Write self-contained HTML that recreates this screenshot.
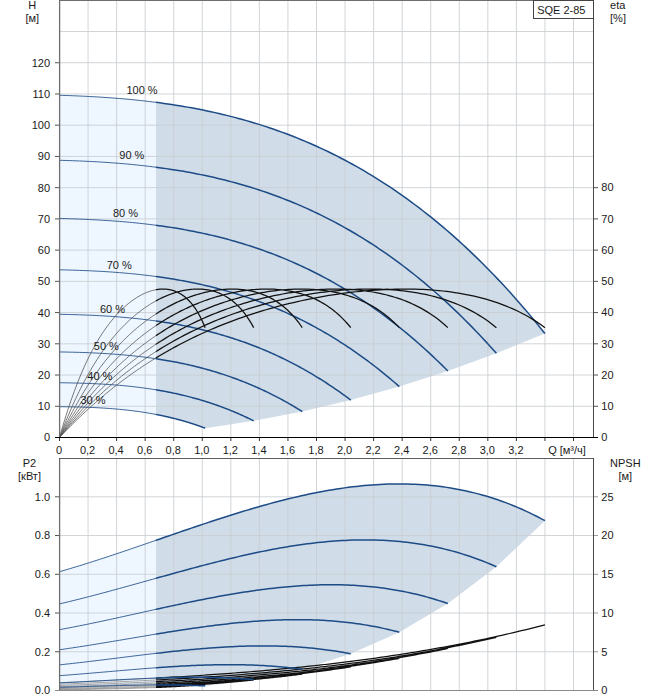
<!DOCTYPE html>
<html><head><meta charset="utf-8"><title>SQE 2-85</title>
<style>
html,body{margin:0;padding:0;background:#fff;}
body{width:658px;height:700px;position:relative;overflow:hidden;font-family:"Liberation Sans",sans-serif;}
</style></head><body>
<svg width="658" height="700" viewBox="0 0 658 700" style="position:absolute;left:0;top:0">
<rect width="658" height="700" fill="#fff"/>
<path d="M59.50,95.26 L62.83,95.36 L66.16,95.47 L69.48,95.59 L72.81,95.72 L76.14,95.86 L79.47,96.00 L82.80,96.15 L86.13,96.32 L89.45,96.49 L92.78,96.67 L96.11,96.86 L99.44,97.06 L102.77,97.28 L106.10,97.50 L109.42,97.73 L112.75,97.98 L116.08,98.24 L119.41,98.51 L122.74,98.79 L126.07,99.08 L129.39,99.39 L132.72,99.71 L136.05,100.04 L139.38,100.39 L142.71,100.75 L146.03,101.13 L149.36,101.52 L152.69,101.93 L156.02,102.35 L156.02,414.45 L152.69,413.83 L149.36,413.24 L146.03,412.69 L142.71,412.17 L139.38,411.67 L136.05,411.21 L132.72,410.78 L129.39,410.38 L126.07,410.00 L122.74,409.65 L119.41,409.33 L116.08,409.02 L112.75,408.75 L109.42,408.49 L106.10,408.26 L102.77,408.04 L99.44,407.85 L96.11,407.67 L92.78,407.52 L89.45,407.38 L86.13,407.25 L82.80,407.14 L79.47,407.04 L76.14,406.96 L72.81,406.89 L69.48,406.83 L66.16,406.77 L62.83,406.73 L59.50,406.70Z" fill="#eef6ff"/>
<path d="M156.02,102.35 L159.29,102.77 L162.56,103.22 L165.82,103.68 L169.09,104.15 L172.36,104.64 L175.63,105.15 L178.90,105.67 L182.17,106.21 L185.43,106.77 L188.70,107.34 L191.97,107.93 L195.24,108.54 L198.51,109.17 L201.78,109.81 L205.04,110.48 L208.31,111.16 L211.58,111.87 L214.85,112.59 L218.12,113.33 L221.39,114.09 L224.65,114.87 L227.92,115.68 L231.19,116.50 L234.46,117.34 L237.73,118.21 L241.00,119.10 L244.26,120.01 L247.53,120.94 L250.80,121.89 L254.07,122.87 L257.34,123.87 L260.61,124.89 L263.87,125.94 L267.14,127.01 L270.41,128.10 L273.68,129.22 L276.95,130.37 L280.22,131.54 L283.48,132.73 L286.75,133.95 L290.02,135.19 L293.29,136.46 L296.56,137.76 L299.83,139.08 L303.09,140.43 L306.36,141.81 L309.63,143.21 L312.90,144.64 L316.17,146.10 L319.44,147.59 L322.70,149.11 L325.97,150.65 L329.24,152.23 L332.51,153.83 L335.78,155.46 L339.05,157.12 L342.31,158.82 L345.58,160.54 L348.85,162.29 L352.12,164.07 L355.39,165.89 L358.66,167.74 L361.92,169.61 L365.19,171.52 L368.46,173.46 L371.73,175.44 L375.00,177.45 L378.27,179.48 L381.53,181.56 L384.80,183.66 L388.07,185.80 L391.34,187.98 L394.61,190.19 L397.88,192.43 L401.14,194.71 L404.41,197.02 L407.68,199.37 L410.95,201.76 L414.22,204.18 L417.49,206.63 L420.75,209.13 L424.02,211.65 L427.29,214.22 L430.56,216.83 L433.83,219.47 L437.10,222.15 L440.37,224.86 L443.63,227.62 L446.90,230.41 L450.17,233.25 L453.44,236.12 L456.71,239.03 L459.98,241.98 L463.24,244.98 L466.51,248.01 L469.78,251.08 L473.05,254.19 L476.32,257.35 L479.59,260.54 L482.85,263.78 L486.12,267.06 L489.39,270.38 L492.66,273.74 L495.93,277.15 L499.20,280.60 L502.46,284.09 L505.73,287.63 L509.00,291.21 L512.27,294.83 L515.54,298.50 L518.81,302.21 L522.07,305.97 L525.34,309.77 L528.61,313.62 L531.88,317.52 L535.15,321.46 L538.42,325.44 L541.68,329.47 L544.95,333.55 L496.41,353.30 L447.86,370.97 L399.32,386.57 L350.77,400.08 L302.23,411.51 L253.68,420.87 L205.14,428.14 L205.14,428.14 L202.55,427.19 L199.97,426.26 L197.38,425.35 L194.80,424.48 L192.21,423.64 L189.63,422.82 L187.04,422.03 L184.46,421.26 L181.87,420.52 L179.28,419.81 L176.70,419.12 L174.11,418.45 L171.53,417.81 L168.94,417.19 L166.36,416.60 L163.77,416.03 L161.19,415.48 L158.60,414.95 L156.02,414.45Z" fill="#d0dce8"/>
<path d="M59.50,571.70 L62.83,570.74 L66.16,569.77 L69.48,568.78 L72.81,567.78 L76.14,566.77 L79.47,565.75 L82.80,564.72 L86.13,563.68 L89.45,562.63 L92.78,561.57 L96.11,560.50 L99.44,559.43 L102.77,558.34 L106.10,557.25 L109.42,556.15 L112.75,555.05 L116.08,553.94 L119.41,552.82 L122.74,551.70 L126.07,550.57 L129.39,549.44 L132.72,548.30 L136.05,547.16 L139.38,546.02 L142.71,544.88 L146.03,543.73 L149.36,542.58 L152.69,541.43 L156.02,540.28 L156.02,684.93 L152.69,684.95 L149.36,684.98 L146.03,685.02 L142.71,685.06 L139.38,685.11 L136.05,685.17 L132.72,685.23 L129.39,685.30 L126.07,685.37 L122.74,685.45 L119.41,685.54 L116.08,685.62 L112.75,685.71 L109.42,685.81 L106.10,685.90 L102.77,686.00 L99.44,686.10 L96.11,686.21 L92.78,686.31 L89.45,686.41 L86.13,686.52 L82.80,686.62 L79.47,686.72 L76.14,686.82 L72.81,686.92 L69.48,687.02 L66.16,687.11 L62.83,687.20 L59.50,687.29Z" fill="#eef6ff"/>
<path d="M156.02,540.28 L159.29,539.15 L162.56,538.02 L165.82,536.89 L169.09,535.76 L172.36,534.64 L175.63,533.51 L178.90,532.39 L182.17,531.27 L185.43,530.15 L188.70,529.03 L191.97,527.92 L195.24,526.82 L198.51,525.72 L201.78,524.62 L205.04,523.53 L208.31,522.44 L211.58,521.36 L214.85,520.29 L218.12,519.23 L221.39,518.17 L224.65,517.12 L227.92,516.08 L231.19,515.05 L234.46,514.02 L237.73,513.01 L241.00,512.01 L244.26,511.01 L247.53,510.03 L250.80,509.06 L254.07,508.10 L257.34,507.16 L260.61,506.22 L263.87,505.30 L267.14,504.39 L270.41,503.50 L273.68,502.62 L276.95,501.76 L280.22,500.91 L283.48,500.07 L286.75,499.26 L290.02,498.45 L293.29,497.67 L296.56,496.90 L299.83,496.15 L303.09,495.42 L306.36,494.71 L309.63,494.01 L312.90,493.34 L316.17,492.68 L319.44,492.04 L322.70,491.43 L325.97,490.84 L329.24,490.26 L332.51,489.71 L335.78,489.18 L339.05,488.68 L342.31,488.19 L345.58,487.73 L348.85,487.30 L352.12,486.89 L355.39,486.50 L358.66,486.14 L361.92,485.80 L365.19,485.49 L368.46,485.21 L371.73,484.95 L375.00,484.72 L378.27,484.52 L381.53,484.35 L384.80,484.20 L388.07,484.09 L391.34,484.00 L394.61,483.94 L397.88,483.91 L401.14,483.92 L404.41,483.95 L407.68,484.02 L410.95,484.11 L414.22,484.24 L417.49,484.41 L420.75,484.60 L424.02,484.83 L427.29,485.09 L430.56,485.39 L433.83,485.72 L437.10,486.09 L440.37,486.49 L443.63,486.93 L446.90,487.41 L450.17,487.92 L453.44,488.47 L456.71,489.06 L459.98,489.68 L463.24,490.34 L466.51,491.05 L469.78,491.79 L473.05,492.57 L476.32,493.39 L479.59,494.25 L482.85,495.16 L486.12,496.10 L489.39,497.09 L492.66,498.12 L495.93,499.19 L499.20,500.30 L502.46,501.46 L505.73,502.67 L509.00,503.91 L512.27,505.20 L515.54,506.54 L518.81,507.92 L522.07,509.35 L525.34,510.83 L528.61,512.35 L531.88,513.92 L535.15,515.53 L538.42,517.20 L541.68,518.91 L544.95,520.67 L496.41,566.70 L447.86,603.55 L399.32,632.25 L350.77,653.82 L302.23,669.27 L253.68,679.63 L205.14,685.91 L205.14,685.91 L202.55,685.79 L199.97,685.68 L197.38,685.57 L194.80,685.48 L192.21,685.39 L189.63,685.31 L187.04,685.24 L184.46,685.18 L181.87,685.12 L179.28,685.07 L176.70,685.03 L174.11,685.00 L171.53,684.97 L168.94,684.95 L166.36,684.93 L163.77,684.92 L161.19,684.92 L158.60,684.93 L156.02,684.93Z" fill="#d0dce8"/>
<path d="M88.06,0V437M116.61,0V437M145.17,0V437M173.72,0V437M202.28,0V437M230.84,0V437M259.39,0V437M287.95,0V437M316.50,0V437M345.06,0V437M373.62,0V437M402.17,0V437M430.73,0V437M459.28,0V437M487.84,0V437M516.40,0V437M544.95,0V437M573.51,0V437M60,406.27H593M60,375.04H593M60,343.81H593M60,312.58H593M60,281.35H593M60,250.12H593M60,218.89H593M60,187.66H593M60,156.43H593M60,125.20H593M60,93.97H593M60,62.74H593M60,31.51H593" stroke="rgba(201,206,209,0.85)" stroke-width="1" fill="none"/>
<path d="M88.06,459V690M116.61,459V690M145.17,459V690M173.72,459V690M202.28,459V690M230.84,459V690M259.39,459V690M287.95,459V690M316.50,459V690M345.06,459V690M373.62,459V690M402.17,459V690M430.73,459V690M459.28,459V690M487.84,459V690M516.40,459V690M544.95,459V690M573.51,459V690M60,651.76H593M60,613.02H593M60,574.28H593M60,535.54H593M60,496.80H593" stroke="rgba(201,206,209,0.85)" stroke-width="1" fill="none"/>
<path d="M59.50,95.26 L62.83,95.36 L66.16,95.47 L69.48,95.59 L72.81,95.72 L76.14,95.86 L79.47,96.00 L82.80,96.15 L86.13,96.32 L89.45,96.49 L92.78,96.67 L96.11,96.86 L99.44,97.06 L102.77,97.28 L106.10,97.50 L109.42,97.73 L112.75,97.98 L116.08,98.24 L119.41,98.51 L122.74,98.79 L126.07,99.08 L129.39,99.39 L132.72,99.71 L136.05,100.04 L139.38,100.39 L142.71,100.75 L146.03,101.13 L149.36,101.52 L152.69,101.93 L156.02,102.35M59.50,160.28 L62.83,160.38 L66.16,160.48 L69.48,160.59 L72.81,160.71 L76.14,160.83 L79.47,160.97 L82.80,161.11 L86.13,161.27 L89.45,161.43 L92.78,161.60 L96.11,161.78 L99.44,161.98 L102.77,162.18 L106.10,162.40 L109.42,162.63 L112.75,162.87 L116.08,163.12 L119.41,163.38 L122.74,163.66 L126.07,163.95 L129.39,164.25 L132.72,164.57 L136.05,164.90 L139.38,165.25 L142.71,165.61 L146.03,165.99 L149.36,166.38 L152.69,166.79 L156.02,167.21M59.50,218.47 L62.83,218.55 L66.16,218.64 L69.48,218.74 L72.81,218.85 L76.14,218.96 L79.47,219.09 L82.80,219.22 L86.13,219.37 L89.45,219.52 L92.78,219.69 L96.11,219.86 L99.44,220.05 L102.77,220.25 L106.10,220.46 L109.42,220.68 L112.75,220.91 L116.08,221.16 L119.41,221.42 L122.74,221.69 L126.07,221.98 L129.39,222.28 L132.72,222.60 L136.05,222.93 L139.38,223.28 L142.71,223.64 L146.03,224.02 L149.36,224.42 L152.69,224.83 L156.02,225.26M59.50,269.80 L62.83,269.88 L66.16,269.96 L69.48,270.05 L72.81,270.15 L76.14,270.25 L79.47,270.37 L82.80,270.49 L86.13,270.63 L89.45,270.78 L92.78,270.93 L96.11,271.10 L99.44,271.28 L102.77,271.47 L106.10,271.68 L109.42,271.89 L112.75,272.12 L116.08,272.37 L119.41,272.63 L122.74,272.90 L126.07,273.19 L129.39,273.49 L132.72,273.81 L136.05,274.14 L139.38,274.49 L142.71,274.86 L146.03,275.25 L149.36,275.65 L152.69,276.07 L156.02,276.51M59.50,314.29 L62.83,314.36 L66.16,314.43 L69.48,314.51 L72.81,314.60 L76.14,314.69 L79.47,314.80 L82.80,314.92 L86.13,315.05 L89.45,315.18 L92.78,315.33 L96.11,315.50 L99.44,315.67 L102.77,315.86 L106.10,316.06 L109.42,316.27 L112.75,316.50 L116.08,316.74 L119.41,317.00 L122.74,317.28 L126.07,317.57 L129.39,317.87 L132.72,318.20 L136.05,318.54 L139.38,318.90 L142.71,319.28 L146.03,319.67 L149.36,320.09 L152.69,320.53 L156.02,320.99M59.50,351.94 L62.83,351.99 L66.16,352.06 L69.48,352.13 L72.81,352.20 L76.14,352.29 L79.47,352.39 L82.80,352.50 L86.13,352.62 L89.45,352.75 L92.78,352.90 L96.11,353.05 L99.44,353.22 L102.77,353.41 L106.10,353.61 L109.42,353.82 L112.75,354.05 L116.08,354.30 L119.41,354.56 L122.74,354.84 L126.07,355.14 L129.39,355.46 L132.72,355.79 L136.05,356.15 L139.38,356.52 L142.71,356.92 L146.03,357.34 L149.36,357.78 L152.69,358.24 L156.02,358.73M59.50,382.74 L62.83,382.79 L66.16,382.84 L69.48,382.90 L72.81,382.97 L76.14,383.05 L79.47,383.14 L82.80,383.24 L86.13,383.35 L89.45,383.48 L92.78,383.62 L96.11,383.78 L99.44,383.95 L102.77,384.13 L106.10,384.33 L109.42,384.55 L112.75,384.79 L116.08,385.04 L119.41,385.32 L122.74,385.61 L126.07,385.93 L129.39,386.27 L132.72,386.62 L136.05,387.01 L139.38,387.41 L142.71,387.84 L146.03,388.30 L149.36,388.78 L152.69,389.28 L156.02,389.82M59.50,406.70 L62.83,406.73 L66.16,406.77 L69.48,406.83 L72.81,406.89 L76.14,406.96 L79.47,407.04 L82.80,407.14 L86.13,407.25 L89.45,407.38 L92.78,407.52 L96.11,407.67 L99.44,407.85 L102.77,408.04 L106.10,408.26 L109.42,408.49 L112.75,408.75 L116.08,409.02 L119.41,409.33 L122.74,409.65 L126.07,410.00 L129.39,410.38 L132.72,410.78 L136.05,411.21 L139.38,411.67 L142.71,412.17 L146.03,412.69 L149.36,413.24 L152.69,413.83 L156.02,414.45" stroke="#1c4b86" stroke-width="0.85" fill="none"/>
<path d="M156.02,102.35 L159.95,102.86 L163.88,103.40 L167.81,103.96 L171.73,104.55 L175.66,105.15 L179.59,105.78 L183.52,106.44 L187.45,107.12 L191.38,107.82 L195.31,108.55 L199.23,109.31 L203.16,110.09 L207.09,110.90 L211.02,111.74 L214.95,112.61 L218.88,113.50 L222.81,114.43 L226.73,115.38 L230.66,116.37 L234.59,117.38 L238.52,118.42 L242.45,119.50 L246.38,120.61 L250.31,121.75 L254.23,122.92 L258.16,124.13 L262.09,125.37 L266.02,126.64 L269.95,127.95 L273.88,129.29 L277.81,130.67 L281.73,132.09 L285.66,133.54 L289.59,135.03 L293.52,136.55 L297.45,138.12 L301.38,139.72 L305.31,141.36 L309.24,143.04 L313.16,144.76 L317.09,146.52 L321.02,148.32 L324.95,150.17 L328.88,152.05 L332.81,153.98 L336.74,155.95 L340.66,157.96 L344.59,160.01 L348.52,162.11 L352.45,164.26 L356.38,166.45 L360.31,168.68 L364.24,170.96 L368.16,173.29 L372.09,175.66 L376.02,178.08 L379.95,180.55 L383.88,183.07 L387.81,185.63 L391.74,188.24 L395.66,190.91 L399.59,193.62 L403.52,196.39 L407.45,199.20 L411.38,202.07 L415.31,204.99 L419.24,207.96 L423.16,210.99 L427.09,214.06 L431.02,217.20 L434.95,220.38 L438.88,223.62 L442.81,226.92 L446.74,230.27 L450.67,233.68 L454.59,237.14 L458.52,240.67 L462.45,244.25 L466.38,247.88 L470.31,251.58 L474.24,255.34 L478.17,259.15 L482.09,263.02 L486.02,266.96 L489.95,270.96 L493.88,275.01 L497.81,279.13 L501.74,283.31 L505.67,287.56 L509.59,291.86 L513.52,296.24 L517.45,300.67 L521.38,305.17 L525.31,309.74 L529.24,314.37 L533.17,319.06 L537.09,323.83 L541.02,328.66 L544.95,333.55M156.02,167.21 L159.46,167.66 L162.90,168.14 L166.33,168.63 L169.77,169.14 L173.21,169.66 L176.65,170.21 L180.09,170.78 L183.53,171.36 L186.96,171.97 L190.40,172.60 L193.84,173.24 L197.28,173.91 L200.72,174.61 L204.15,175.32 L207.59,176.05 L211.03,176.81 L214.47,177.59 L217.91,178.40 L221.35,179.23 L224.78,180.08 L228.22,180.95 L231.66,181.86 L235.10,182.78 L238.54,183.73 L241.98,184.71 L245.41,185.72 L248.85,186.75 L252.29,187.81 L255.73,188.89 L259.17,190.00 L262.61,191.14 L266.04,192.31 L269.48,193.51 L272.92,194.73 L276.36,195.99 L279.80,197.27 L283.23,198.59 L286.67,199.94 L290.11,201.31 L293.55,202.72 L296.99,204.16 L300.43,205.63 L303.86,207.13 L307.30,208.67 L310.74,210.23 L314.18,211.83 L317.62,213.47 L321.06,215.14 L324.49,216.84 L327.93,218.58 L331.37,220.35 L334.81,222.16 L338.25,224.00 L341.69,225.88 L345.12,227.79 L348.56,229.74 L352.00,231.73 L355.44,233.76 L358.88,235.82 L362.31,237.93 L365.75,240.07 L369.19,242.25 L372.63,244.46 L376.07,246.72 L379.51,249.02 L382.94,251.36 L386.38,253.73 L389.82,256.15 L393.26,258.61 L396.70,261.11 L400.14,263.66 L403.57,266.24 L407.01,268.87 L410.45,271.54 L413.89,274.26 L417.33,277.02 L420.77,279.82 L424.20,282.66 L427.64,285.56 L431.08,288.49 L434.52,291.47 L437.96,294.50 L441.39,297.57 L444.83,300.69 L448.27,303.86 L451.71,307.08 L455.15,310.34 L458.59,313.65 L462.02,317.00 L465.46,320.41 L468.90,323.86 L472.34,327.37 L475.78,330.92 L479.22,334.52 L482.65,338.18 L486.09,341.88 L489.53,345.64 L492.97,349.44 L496.41,353.30M156.02,225.26 L158.97,225.65 L161.92,226.06 L164.86,226.49 L167.81,226.92 L170.76,227.38 L173.71,227.84 L176.65,228.33 L179.60,228.82 L182.55,229.34 L185.50,229.87 L188.45,230.41 L191.39,230.97 L194.34,231.55 L197.29,232.15 L200.24,232.76 L203.19,233.39 L206.13,234.04 L209.08,234.71 L212.03,235.39 L214.98,236.09 L217.93,236.82 L220.87,237.56 L223.82,238.32 L226.77,239.09 L229.72,239.89 L232.66,240.71 L235.61,241.55 L238.56,242.41 L241.51,243.29 L244.46,244.19 L247.40,245.11 L250.35,246.05 L253.30,247.02 L256.25,248.01 L259.20,249.01 L262.14,250.05 L265.09,251.10 L268.04,252.18 L270.99,253.28 L273.94,254.40 L276.88,255.55 L279.83,256.72 L282.78,257.91 L285.73,259.13 L288.67,260.38 L291.62,261.64 L294.57,262.94 L297.52,264.26 L300.47,265.60 L303.41,266.97 L306.36,268.37 L309.31,269.79 L312.26,271.24 L315.21,272.72 L318.15,274.22 L321.10,275.75 L324.05,277.31 L327.00,278.90 L329.95,280.51 L332.89,282.16 L335.84,283.83 L338.79,285.53 L341.74,287.26 L344.69,289.02 L347.63,290.81 L350.58,292.62 L353.53,294.47 L356.48,296.35 L359.42,298.26 L362.37,300.20 L365.32,302.17 L368.27,304.17 L371.22,306.21 L374.16,308.27 L377.11,310.37 L380.06,312.50 L383.01,314.66 L385.96,316.86 L388.90,319.09 L391.85,321.35 L394.80,323.64 L397.75,325.97 L400.70,328.34 L403.64,330.73 L406.59,333.16 L409.54,335.63 L412.49,338.13 L415.43,340.67 L418.38,343.24 L421.33,345.85 L424.28,348.49 L427.23,351.17 L430.17,353.89 L433.12,356.65 L436.07,359.44 L439.02,362.26 L441.97,365.13 L444.91,368.03 L447.86,370.97M156.02,276.51 L158.48,276.85 L160.93,277.20 L163.39,277.55 L165.85,277.92 L168.31,278.30 L170.76,278.69 L173.22,279.10 L175.68,279.51 L178.14,279.94 L180.59,280.37 L183.05,280.82 L185.51,281.28 L187.97,281.76 L190.42,282.24 L192.88,282.74 L195.34,283.26 L197.80,283.78 L200.26,284.32 L202.71,284.87 L205.17,285.43 L207.63,286.01 L210.09,286.60 L212.54,287.21 L215.00,287.83 L217.46,288.47 L219.92,289.11 L222.37,289.78 L224.83,290.46 L227.29,291.15 L229.75,291.86 L232.20,292.58 L234.66,293.32 L237.12,294.07 L239.58,294.85 L242.03,295.63 L244.49,296.43 L246.95,297.25 L249.41,298.09 L251.86,298.94 L254.32,299.81 L256.78,300.69 L259.24,301.59 L261.69,302.51 L264.15,303.45 L266.61,304.41 L269.07,305.38 L271.52,306.37 L273.98,307.38 L276.44,308.40 L278.90,309.45 L281.35,310.51 L283.81,311.59 L286.27,312.69 L288.73,313.81 L291.18,314.95 L293.64,316.11 L296.10,317.29 L298.56,318.49 L301.01,319.70 L303.47,320.94 L305.93,322.20 L308.39,323.48 L310.84,324.78 L313.30,326.09 L315.76,327.43 L318.22,328.80 L320.67,330.18 L323.13,331.58 L325.59,333.01 L328.05,334.45 L330.51,335.92 L332.96,337.41 L335.42,338.92 L337.88,340.46 L340.34,342.02 L342.79,343.60 L345.25,345.20 L347.71,346.83 L350.17,348.48 L352.62,350.15 L355.08,351.84 L357.54,353.56 L360.00,355.31 L362.45,357.07 L364.91,358.86 L367.37,360.68 L369.83,362.52 L372.28,364.38 L374.74,366.27 L377.20,368.19 L379.66,370.13 L382.11,372.09 L384.57,374.08 L387.03,376.10 L389.49,378.14 L391.94,380.21 L394.40,382.30 L396.86,384.42 L399.32,386.57M156.02,320.99 L157.99,321.27 L159.95,321.55 L161.92,321.85 L163.89,322.15 L165.86,322.46 L167.82,322.78 L169.79,323.11 L171.76,323.44 L173.72,323.78 L175.69,324.13 L177.66,324.49 L179.63,324.86 L181.59,325.24 L183.56,325.62 L185.53,326.01 L187.49,326.41 L189.46,326.82 L191.43,327.24 L193.40,327.67 L195.36,328.11 L197.33,328.56 L199.30,329.01 L201.26,329.48 L203.23,329.96 L205.20,330.44 L207.17,330.94 L209.13,331.44 L211.10,331.96 L213.07,332.48 L215.04,333.02 L217.00,333.56 L218.97,334.12 L220.94,334.68 L222.90,335.26 L224.87,335.85 L226.84,336.44 L228.81,337.05 L230.77,337.67 L232.74,338.30 L234.71,338.95 L236.67,339.60 L238.64,340.26 L240.61,340.94 L242.58,341.63 L244.54,342.33 L246.51,343.04 L248.48,343.76 L250.44,344.50 L252.41,345.24 L254.38,346.00 L256.35,346.77 L258.31,347.56 L260.28,348.35 L262.25,349.16 L264.21,349.98 L266.18,350.81 L268.15,351.66 L270.12,352.52 L272.08,353.39 L274.05,354.28 L276.02,355.18 L277.99,356.09 L279.95,357.01 L281.92,357.95 L283.89,358.91 L285.85,359.87 L287.82,360.85 L289.79,361.85 L291.76,362.85 L293.72,363.88 L295.69,364.91 L297.66,365.96 L299.62,367.03 L301.59,368.11 L303.56,369.20 L305.53,370.31 L307.49,371.43 L309.46,372.57 L311.43,373.72 L313.39,374.89 L315.36,376.07 L317.33,377.27 L319.30,378.49 L321.26,379.72 L323.23,380.96 L325.20,382.22 L327.16,383.50 L329.13,384.79 L331.10,386.10 L333.07,387.42 L335.03,388.76 L337.00,390.12 L338.97,391.49 L340.94,392.88 L342.90,394.29 L344.87,395.71 L346.84,397.15 L348.80,398.61 L350.77,400.08M156.02,358.73 L157.50,358.95 L158.97,359.18 L160.45,359.41 L161.93,359.65 L163.40,359.89 L164.88,360.14 L166.36,360.39 L167.83,360.65 L169.31,360.91 L170.79,361.18 L172.26,361.45 L173.74,361.73 L175.22,362.01 L176.69,362.30 L178.17,362.59 L179.65,362.89 L181.13,363.20 L182.60,363.51 L184.08,363.82 L185.56,364.14 L187.03,364.47 L188.51,364.80 L189.99,365.14 L191.46,365.49 L192.94,365.84 L194.42,366.19 L195.89,366.55 L197.37,366.92 L198.85,367.30 L200.32,367.68 L201.80,368.06 L203.28,368.46 L204.75,368.85 L206.23,369.26 L207.71,369.67 L209.19,370.09 L210.66,370.51 L212.14,370.94 L213.62,371.38 L215.09,371.83 L216.57,372.28 L218.05,372.73 L219.52,373.20 L221.00,373.67 L222.48,374.15 L223.95,374.63 L225.43,375.12 L226.91,375.62 L228.38,376.13 L229.86,376.64 L231.34,377.16 L232.81,377.69 L234.29,378.22 L235.77,378.76 L237.25,379.31 L238.72,379.87 L240.20,380.43 L241.68,381.01 L243.15,381.58 L244.63,382.17 L246.11,382.77 L247.58,383.37 L249.06,383.98 L250.54,384.59 L252.01,385.22 L253.49,385.85 L254.97,386.49 L256.44,387.14 L257.92,387.80 L259.40,388.47 L260.87,389.14 L262.35,389.82 L263.83,390.51 L265.31,391.21 L266.78,391.92 L268.26,392.63 L269.74,393.36 L271.21,394.09 L272.69,394.83 L274.17,395.58 L275.64,396.34 L277.12,397.10 L278.60,397.88 L280.07,398.66 L281.55,399.45 L283.03,400.26 L284.50,401.07 L285.98,401.89 L287.46,402.72 L288.93,403.55 L290.41,404.40 L291.89,405.26 L293.36,406.12 L294.84,407.00 L296.32,407.88 L297.80,408.78 L299.27,409.68 L300.75,410.59 L302.23,411.51M156.02,389.82 L157.01,389.98 L157.99,390.15 L158.98,390.31 L159.97,390.49 L160.95,390.66 L161.94,390.84 L162.92,391.01 L163.91,391.20 L164.90,391.38 L165.88,391.57 L166.87,391.75 L167.86,391.95 L168.84,392.14 L169.83,392.34 L170.82,392.54 L171.80,392.74 L172.79,392.94 L173.78,393.15 L174.76,393.36 L175.75,393.58 L176.74,393.79 L177.72,394.01 L178.71,394.23 L179.69,394.46 L180.68,394.69 L181.67,394.92 L182.65,395.15 L183.64,395.39 L184.63,395.63 L185.61,395.87 L186.60,396.12 L187.59,396.36 L188.57,396.62 L189.56,396.87 L190.55,397.13 L191.53,397.39 L192.52,397.65 L193.51,397.92 L194.49,398.19 L195.48,398.46 L196.46,398.74 L197.45,399.02 L198.44,399.30 L199.42,399.59 L200.41,399.88 L201.40,400.17 L202.38,400.47 L203.37,400.77 L204.36,401.07 L205.34,401.38 L206.33,401.68 L207.32,402.00 L208.30,402.31 L209.29,402.63 L210.28,402.96 L211.26,403.28 L212.25,403.61 L213.24,403.95 L214.22,404.28 L215.21,404.62 L216.19,404.97 L217.18,405.32 L218.17,405.67 L219.15,406.02 L220.14,406.38 L221.13,406.74 L222.11,407.11 L223.10,407.48 L224.09,407.85 L225.07,408.23 L226.06,408.61 L227.05,409.00 L228.03,409.38 L229.02,409.78 L230.01,410.17 L230.99,410.57 L231.98,410.98 L232.96,411.38 L233.95,411.79 L234.94,412.21 L235.92,412.63 L236.91,413.05 L237.90,413.48 L238.88,413.91 L239.87,414.35 L240.86,414.78 L241.84,415.23 L242.83,415.68 L243.82,416.13 L244.80,416.58 L245.79,417.04 L246.78,417.51 L247.76,417.97 L248.75,418.45 L249.73,418.92 L250.72,419.40 L251.71,419.89 L252.69,420.38 L253.68,420.87M156.02,414.45 L156.52,414.54 L157.01,414.64 L157.51,414.74 L158.00,414.83 L158.50,414.93 L159.00,415.03 L159.49,415.13 L159.99,415.23 L160.48,415.33 L160.98,415.44 L161.48,415.54 L161.97,415.64 L162.47,415.75 L162.97,415.86 L163.46,415.96 L163.96,416.07 L164.45,416.18 L164.95,416.29 L165.45,416.40 L165.94,416.51 L166.44,416.62 L166.93,416.73 L167.43,416.84 L167.93,416.96 L168.42,417.07 L168.92,417.19 L169.41,417.30 L169.91,417.42 L170.41,417.54 L170.90,417.66 L171.40,417.78 L171.90,417.90 L172.39,418.02 L172.89,418.15 L173.38,418.27 L173.88,418.39 L174.38,418.52 L174.87,418.64 L175.37,418.77 L175.86,418.90 L176.36,419.03 L176.86,419.16 L177.35,419.29 L177.85,419.42 L178.34,419.55 L178.84,419.69 L179.34,419.82 L179.83,419.96 L180.33,420.09 L180.83,420.23 L181.32,420.37 L181.82,420.51 L182.31,420.65 L182.81,420.79 L183.31,420.93 L183.80,421.07 L184.30,421.21 L184.79,421.36 L185.29,421.50 L185.79,421.65 L186.28,421.80 L186.78,421.95 L187.28,422.10 L187.77,422.25 L188.27,422.40 L188.76,422.55 L189.26,422.70 L189.76,422.86 L190.25,423.01 L190.75,423.17 L191.24,423.33 L191.74,423.48 L192.24,423.64 L192.73,423.80 L193.23,423.97 L193.72,424.13 L194.22,424.29 L194.72,424.46 L195.21,424.62 L195.71,424.79 L196.21,424.95 L196.70,425.12 L197.20,425.29 L197.69,425.46 L198.19,425.63 L198.69,425.81 L199.18,425.98 L199.68,426.15 L200.17,426.33 L200.67,426.51 L201.17,426.68 L201.66,426.86 L202.16,427.04 L202.65,427.22 L203.15,427.41 L203.65,427.59 L204.14,427.77 L204.64,427.96 L205.14,428.14" stroke="#1c4b86" stroke-width="1.5" fill="none"/>
<path d="M59.50,682.70 L62.83,682.56 L66.16,682.41 L69.48,682.27 L72.81,682.13 L76.14,681.98 L79.47,681.84 L82.80,681.69 L86.13,681.54 L89.45,681.39 L92.78,681.24 L96.11,681.09 L99.44,680.94 L102.77,680.79 L106.10,680.63 L109.42,680.48 L112.75,680.32 L116.08,680.16 L119.41,680.00 L122.74,679.84 L126.07,679.67 L129.39,679.51 L132.72,679.34 L136.05,679.17 L139.38,679.00 L142.71,678.82 L146.03,678.65 L149.36,678.47 L152.69,678.29 L156.02,678.11M59.50,684.18 L62.83,684.05 L66.16,683.92 L69.48,683.79 L72.81,683.67 L76.14,683.53 L79.47,683.40 L82.80,683.27 L86.13,683.14 L89.45,683.00 L92.78,682.87 L96.11,682.73 L99.44,682.59 L102.77,682.45 L106.10,682.31 L109.42,682.17 L112.75,682.02 L116.08,681.88 L119.41,681.73 L122.74,681.58 L126.07,681.43 L129.39,681.28 L132.72,681.12 L136.05,680.96 L139.38,680.80 L142.71,680.64 L146.03,680.48 L149.36,680.31 L152.69,680.14 L156.02,679.97M59.50,685.51 L62.83,685.39 L66.16,685.28 L69.48,685.16 L72.81,685.05 L76.14,684.93 L79.47,684.81 L82.80,684.70 L86.13,684.58 L89.45,684.45 L92.78,684.33 L96.11,684.21 L99.44,684.08 L102.77,683.96 L106.10,683.83 L109.42,683.70 L112.75,683.57 L116.08,683.44 L119.41,683.30 L122.74,683.17 L126.07,683.03 L129.39,682.89 L132.72,682.74 L136.05,682.60 L139.38,682.45 L142.71,682.30 L146.03,682.15 L149.36,681.99 L152.69,681.84 L156.02,681.68M59.50,686.68 L62.83,686.58 L66.16,686.48 L69.48,686.38 L72.81,686.27 L76.14,686.17 L79.47,686.07 L82.80,685.96 L86.13,685.86 L89.45,685.75 L92.78,685.64 L96.11,685.53 L99.44,685.42 L102.77,685.31 L106.10,685.19 L109.42,685.08 L112.75,684.96 L116.08,684.84 L119.41,684.72 L122.74,684.59 L126.07,684.47 L129.39,684.34 L132.72,684.21 L136.05,684.07 L139.38,683.94 L142.71,683.80 L146.03,683.66 L149.36,683.51 L152.69,683.36 L156.02,683.21M59.50,687.69 L62.83,687.61 L66.16,687.52 L69.48,687.43 L72.81,687.35 L76.14,687.26 L79.47,687.17 L82.80,687.08 L86.13,686.98 L89.45,686.89 L92.78,686.80 L96.11,686.70 L99.44,686.60 L102.77,686.50 L106.10,686.40 L109.42,686.30 L112.75,686.19 L116.08,686.08 L119.41,685.97 L122.74,685.86 L126.07,685.74 L129.39,685.63 L132.72,685.51 L136.05,685.38 L139.38,685.26 L142.71,685.13 L146.03,685.00 L149.36,684.86 L152.69,684.72 L156.02,684.58M59.50,688.55 L62.83,688.48 L66.16,688.41 L69.48,688.33 L72.81,688.26 L76.14,688.19 L79.47,688.11 L82.80,688.03 L86.13,687.95 L89.45,687.87 L92.78,687.79 L96.11,687.71 L99.44,687.62 L102.77,687.54 L106.10,687.45 L109.42,687.36 L112.75,687.26 L116.08,687.17 L119.41,687.07 L122.74,686.96 L126.07,686.86 L129.39,686.75 L132.72,686.64 L136.05,686.53 L139.38,686.41 L142.71,686.29 L146.03,686.16 L149.36,686.04 L152.69,685.90 L156.02,685.77M59.50,689.25 L62.83,689.19 L66.16,689.14 L69.48,689.08 L72.81,689.02 L76.14,688.96 L79.47,688.90 L82.80,688.83 L86.13,688.77 L89.45,688.70 L92.78,688.63 L96.11,688.56 L99.44,688.49 L102.77,688.41 L106.10,688.33 L109.42,688.25 L112.75,688.17 L116.08,688.08 L119.41,687.99 L122.74,687.90 L126.07,687.80 L129.39,687.70 L132.72,687.60 L136.05,687.49 L139.38,687.38 L142.71,687.27 L146.03,687.15 L149.36,687.02 L152.69,686.89 L156.02,686.76M59.50,689.80 L62.83,689.75 L66.16,689.71 L69.48,689.67 L72.81,689.62 L76.14,689.57 L79.47,689.53 L82.80,689.48 L86.13,689.42 L89.45,689.37 L92.78,689.31 L96.11,689.25 L99.44,689.19 L102.77,689.12 L106.10,689.06 L109.42,688.98 L112.75,688.91 L116.08,688.83 L119.41,688.75 L122.74,688.66 L126.07,688.57 L129.39,688.47 L132.72,688.37 L136.05,688.26 L139.38,688.15 L142.71,688.04 L146.03,687.91 L149.36,687.78 L152.69,687.65 L156.02,687.51" stroke="#444" stroke-width="0.45" fill="none"/>
<path d="M156.02,678.11 L159.95,677.89 L163.88,677.67 L167.81,677.44 L171.73,677.22 L175.66,676.98 L179.59,676.75 L183.52,676.51 L187.45,676.26 L191.38,676.02 L195.31,675.77 L199.23,675.51 L203.16,675.25 L207.09,674.98 L211.02,674.72 L214.95,674.44 L218.88,674.16 L222.81,673.88 L226.73,673.59 L230.66,673.30 L234.59,673.00 L238.52,672.70 L242.45,672.39 L246.38,672.07 L250.31,671.75 L254.23,671.43 L258.16,671.10 L262.09,670.76 L266.02,670.42 L269.95,670.07 L273.88,669.72 L277.81,669.35 L281.73,668.99 L285.66,668.61 L289.59,668.23 L293.52,667.85 L297.45,667.45 L301.38,667.05 L305.31,666.65 L309.24,666.23 L313.16,665.81 L317.09,665.38 L321.02,664.95 L324.95,664.50 L328.88,664.05 L332.81,663.59 L336.74,663.13 L340.66,662.65 L344.59,662.17 L348.52,661.68 L352.45,661.18 L356.38,660.68 L360.31,660.16 L364.24,659.64 L368.16,659.11 L372.09,658.57 L376.02,658.02 L379.95,657.47 L383.88,656.90 L387.81,656.32 L391.74,655.74 L395.66,655.15 L399.59,654.54 L403.52,653.93 L407.45,653.31 L411.38,652.68 L415.31,652.04 L419.24,651.39 L423.16,650.73 L427.09,650.06 L431.02,649.38 L434.95,648.69 L438.88,647.99 L442.81,647.28 L446.74,646.56 L450.67,645.82 L454.59,645.08 L458.52,644.33 L462.45,643.56 L466.38,642.79 L470.31,642.00 L474.24,641.20 L478.17,640.39 L482.09,639.57 L486.02,638.74 L489.95,637.90 L493.88,637.04 L497.81,636.18 L501.74,635.30 L505.67,634.41 L509.59,633.51 L513.52,632.59 L517.45,631.67 L521.38,630.73 L525.31,629.77 L529.24,628.81 L533.17,627.83 L537.09,626.84 L541.02,625.84 L544.95,624.83M156.02,679.97 L159.46,679.79 L162.90,679.61 L166.33,679.43 L169.77,679.24 L173.21,679.05 L176.65,678.86 L180.09,678.66 L183.53,678.46 L186.96,678.26 L190.40,678.05 L193.84,677.84 L197.28,677.63 L200.72,677.41 L204.15,677.19 L207.59,676.96 L211.03,676.74 L214.47,676.50 L217.91,676.27 L221.35,676.03 L224.78,675.78 L228.22,675.54 L231.66,675.28 L235.10,675.03 L238.54,674.77 L241.98,674.50 L245.41,674.23 L248.85,673.96 L252.29,673.68 L255.73,673.39 L259.17,673.10 L262.61,672.81 L266.04,672.51 L269.48,672.21 L272.92,671.90 L276.36,671.58 L279.80,671.26 L283.23,670.94 L286.67,670.61 L290.11,670.27 L293.55,669.93 L296.99,669.59 L300.43,669.23 L303.86,668.88 L307.30,668.51 L310.74,668.14 L314.18,667.76 L317.62,667.38 L321.06,666.99 L324.49,666.60 L327.93,666.20 L331.37,665.79 L334.81,665.38 L338.25,664.96 L341.69,664.53 L345.12,664.10 L348.56,663.66 L352.00,663.21 L355.44,662.76 L358.88,662.30 L362.31,661.83 L365.75,661.35 L369.19,660.87 L372.63,660.38 L376.07,659.88 L379.51,659.38 L382.94,658.87 L386.38,658.35 L389.82,657.82 L393.26,657.29 L396.70,656.75 L400.14,656.20 L403.57,655.64 L407.01,655.07 L410.45,654.50 L413.89,653.91 L417.33,653.32 L420.77,652.73 L424.20,652.12 L427.64,651.50 L431.08,650.88 L434.52,650.25 L437.96,649.60 L441.39,648.95 L444.83,648.30 L448.27,647.63 L451.71,646.95 L455.15,646.26 L458.59,645.57 L462.02,644.87 L465.46,644.15 L468.90,643.43 L472.34,642.70 L475.78,641.96 L479.22,641.21 L482.65,640.44 L486.09,639.67 L489.53,638.89 L492.97,638.10 L496.41,637.30M156.02,681.68 L158.97,681.53 L161.92,681.39 L164.86,681.24 L167.81,681.09 L170.76,680.93 L173.71,680.78 L176.65,680.62 L179.60,680.46 L182.55,680.30 L185.50,680.13 L188.45,679.96 L191.39,679.79 L194.34,679.62 L197.29,679.44 L200.24,679.26 L203.19,679.08 L206.13,678.89 L209.08,678.70 L212.03,678.51 L214.98,678.32 L217.93,678.12 L220.87,677.92 L223.82,677.71 L226.77,677.50 L229.72,677.29 L232.66,677.08 L235.61,676.86 L238.56,676.64 L241.51,676.41 L244.46,676.18 L247.40,675.95 L250.35,675.71 L253.30,675.47 L256.25,675.22 L259.20,674.98 L262.14,674.72 L265.09,674.47 L268.04,674.21 L270.99,673.94 L273.94,673.67 L276.88,673.40 L279.83,673.12 L282.78,672.84 L285.73,672.55 L288.67,672.26 L291.62,671.97 L294.57,671.67 L297.52,671.36 L300.47,671.05 L303.41,670.74 L306.36,670.42 L309.31,670.09 L312.26,669.77 L315.21,669.43 L318.15,669.09 L321.10,668.75 L324.05,668.40 L327.00,668.05 L329.95,667.69 L332.89,667.33 L335.84,666.96 L338.79,666.58 L341.74,666.20 L344.69,665.81 L347.63,665.42 L350.58,665.03 L353.53,664.62 L356.48,664.22 L359.42,663.80 L362.37,663.38 L365.32,662.96 L368.27,662.53 L371.22,662.09 L374.16,661.65 L377.11,661.20 L380.06,660.74 L383.01,660.28 L385.96,659.81 L388.90,659.34 L391.85,658.86 L394.80,658.37 L397.75,657.88 L400.70,657.38 L403.64,656.87 L406.59,656.36 L409.54,655.84 L412.49,655.32 L415.43,654.78 L418.38,654.24 L421.33,653.70 L424.28,653.15 L427.23,652.59 L430.17,652.02 L433.12,651.45 L436.07,650.86 L439.02,650.28 L441.97,649.68 L444.91,649.08 L447.86,648.47M156.02,683.21 L158.48,683.10 L160.93,682.99 L163.39,682.87 L165.85,682.75 L168.31,682.63 L170.76,682.51 L173.22,682.39 L175.68,682.26 L178.14,682.13 L180.59,682.00 L183.05,681.87 L185.51,681.74 L187.97,681.60 L190.42,681.47 L192.88,681.33 L195.34,681.18 L197.80,681.04 L200.26,680.89 L202.71,680.74 L205.17,680.59 L207.63,680.44 L210.09,680.28 L212.54,680.12 L215.00,679.96 L217.46,679.80 L219.92,679.63 L222.37,679.46 L224.83,679.29 L227.29,679.12 L229.75,678.94 L232.20,678.76 L234.66,678.58 L237.12,678.40 L239.58,678.21 L242.03,678.02 L244.49,677.83 L246.95,677.63 L249.41,677.43 L251.86,677.23 L254.32,677.02 L256.78,676.82 L259.24,676.60 L261.69,676.39 L264.15,676.17 L266.61,675.95 L269.07,675.73 L271.52,675.50 L273.98,675.27 L276.44,675.04 L278.90,674.80 L281.35,674.56 L283.81,674.31 L286.27,674.07 L288.73,673.81 L291.18,673.56 L293.64,673.30 L296.10,673.04 L298.56,672.77 L301.01,672.51 L303.47,672.23 L305.93,671.96 L308.39,671.68 L310.84,671.39 L313.30,671.10 L315.76,670.81 L318.22,670.51 L320.67,670.21 L323.13,669.91 L325.59,669.60 L328.05,669.29 L330.51,668.98 L332.96,668.65 L335.42,668.33 L337.88,668.00 L340.34,667.67 L342.79,667.33 L345.25,666.99 L347.71,666.64 L350.17,666.29 L352.62,665.94 L355.08,665.58 L357.54,665.22 L360.00,664.85 L362.45,664.48 L364.91,664.10 L367.37,663.72 L369.83,663.33 L372.28,662.94 L374.74,662.54 L377.20,662.14 L379.66,661.74 L382.11,661.33 L384.57,660.91 L387.03,660.49 L389.49,660.07 L391.94,659.64 L394.40,659.20 L396.86,658.76 L399.32,658.32M156.02,684.58 L157.99,684.49 L159.95,684.41 L161.92,684.32 L163.89,684.23 L165.86,684.14 L167.82,684.05 L169.79,683.96 L171.76,683.86 L173.72,683.76 L175.69,683.67 L177.66,683.57 L179.63,683.47 L181.59,683.37 L183.56,683.26 L185.53,683.16 L187.49,683.05 L189.46,682.94 L191.43,682.83 L193.40,682.72 L195.36,682.61 L197.33,682.50 L199.30,682.38 L201.26,682.26 L203.23,682.14 L205.20,682.02 L207.17,681.90 L209.13,681.78 L211.10,681.65 L213.07,681.52 L215.04,681.39 L217.00,681.26 L218.97,681.13 L220.94,680.99 L222.90,680.85 L224.87,680.72 L226.84,680.57 L228.81,680.43 L230.77,680.29 L232.74,680.14 L234.71,679.99 L236.67,679.84 L238.64,679.68 L240.61,679.53 L242.58,679.37 L244.54,679.21 L246.51,679.05 L248.48,678.89 L250.44,678.72 L252.41,678.55 L254.38,678.38 L256.35,678.21 L258.31,678.03 L260.28,677.86 L262.25,677.68 L264.21,677.49 L266.18,677.31 L268.15,677.12 L270.12,676.93 L272.08,676.74 L274.05,676.55 L276.02,676.35 L277.99,676.15 L279.95,675.95 L281.92,675.75 L283.89,675.54 L285.85,675.33 L287.82,675.12 L289.79,674.91 L291.76,674.69 L293.72,674.47 L295.69,674.25 L297.66,674.02 L299.62,673.80 L301.59,673.56 L303.56,673.33 L305.53,673.10 L307.49,672.86 L309.46,672.62 L311.43,672.37 L313.39,672.12 L315.36,671.87 L317.33,671.62 L319.30,671.37 L321.26,671.11 L323.23,670.84 L325.20,670.58 L327.16,670.31 L329.13,670.04 L331.10,669.77 L333.07,669.49 L335.03,669.21 L337.00,668.93 L338.97,668.64 L340.94,668.35 L342.90,668.06 L344.87,667.76 L346.84,667.46 L348.80,667.16 L350.77,666.86M156.02,685.77 L157.50,685.71 L158.97,685.64 L160.45,685.58 L161.93,685.52 L163.40,685.45 L164.88,685.39 L166.36,685.32 L167.83,685.25 L169.31,685.18 L170.79,685.11 L172.26,685.04 L173.74,684.97 L175.22,684.90 L176.69,684.83 L178.17,684.75 L179.65,684.68 L181.13,684.60 L182.60,684.53 L184.08,684.45 L185.56,684.37 L187.03,684.29 L188.51,684.21 L189.99,684.13 L191.46,684.04 L192.94,683.96 L194.42,683.87 L195.89,683.79 L197.37,683.70 L198.85,683.61 L200.32,683.52 L201.80,683.43 L203.28,683.34 L204.75,683.25 L206.23,683.15 L207.71,683.06 L209.19,682.96 L210.66,682.87 L212.14,682.77 L213.62,682.67 L215.09,682.57 L216.57,682.46 L218.05,682.36 L219.52,682.26 L221.00,682.15 L222.48,682.04 L223.95,681.93 L225.43,681.82 L226.91,681.71 L228.38,681.60 L229.86,681.49 L231.34,681.37 L232.81,681.26 L234.29,681.14 L235.77,681.02 L237.25,680.90 L238.72,680.78 L240.20,680.65 L241.68,680.53 L243.15,680.40 L244.63,680.27 L246.11,680.15 L247.58,680.02 L249.06,679.88 L250.54,679.75 L252.01,679.62 L253.49,679.48 L254.97,679.34 L256.44,679.20 L257.92,679.06 L259.40,678.92 L260.87,678.78 L262.35,678.63 L263.83,678.48 L265.31,678.33 L266.78,678.18 L268.26,678.03 L269.74,677.88 L271.21,677.72 L272.69,677.57 L274.17,677.41 L275.64,677.25 L277.12,677.09 L278.60,676.93 L280.07,676.76 L281.55,676.59 L283.03,676.43 L284.50,676.26 L285.98,676.09 L287.46,675.91 L288.93,675.74 L290.41,675.56 L291.89,675.38 L293.36,675.20 L294.84,675.02 L296.32,674.84 L297.80,674.65 L299.27,674.46 L300.75,674.27 L302.23,674.08M156.02,686.76 L157.01,686.72 L157.99,686.68 L158.98,686.63 L159.97,686.59 L160.95,686.55 L161.94,686.51 L162.92,686.46 L163.91,686.42 L164.90,686.38 L165.88,686.33 L166.87,686.29 L167.86,686.24 L168.84,686.19 L169.83,686.15 L170.82,686.10 L171.80,686.05 L172.79,686.00 L173.78,685.96 L174.76,685.91 L175.75,685.86 L176.74,685.81 L177.72,685.76 L178.71,685.70 L179.69,685.65 L180.68,685.60 L181.67,685.55 L182.65,685.49 L183.64,685.44 L184.63,685.39 L185.61,685.33 L186.60,685.28 L187.59,685.22 L188.57,685.16 L189.56,685.11 L190.55,685.05 L191.53,684.99 L192.52,684.93 L193.51,684.87 L194.49,684.81 L195.48,684.75 L196.46,684.69 L197.45,684.63 L198.44,684.57 L199.42,684.50 L200.41,684.44 L201.40,684.37 L202.38,684.31 L203.37,684.24 L204.36,684.18 L205.34,684.11 L206.33,684.04 L207.32,683.98 L208.30,683.91 L209.29,683.84 L210.28,683.77 L211.26,683.70 L212.25,683.63 L213.24,683.55 L214.22,683.48 L215.21,683.41 L216.19,683.33 L217.18,683.26 L218.17,683.18 L219.15,683.11 L220.14,683.03 L221.13,682.95 L222.11,682.88 L223.10,682.80 L224.09,682.72 L225.07,682.64 L226.06,682.56 L227.05,682.48 L228.03,682.39 L229.02,682.31 L230.01,682.23 L230.99,682.14 L231.98,682.06 L232.96,681.97 L233.95,681.89 L234.94,681.80 L235.92,681.71 L236.91,681.62 L237.90,681.53 L238.88,681.44 L239.87,681.35 L240.86,681.26 L241.84,681.17 L242.83,681.07 L243.82,680.98 L244.80,680.88 L245.79,680.79 L246.78,680.69 L247.76,680.59 L248.75,680.50 L249.73,680.40 L250.72,680.30 L251.71,680.20 L252.69,680.09 L253.68,679.99M156.02,687.51 L156.52,687.49 L157.01,687.47 L157.51,687.45 L158.00,687.42 L158.50,687.40 L159.00,687.38 L159.49,687.36 L159.99,687.33 L160.48,687.31 L160.98,687.29 L161.48,687.27 L161.97,687.24 L162.47,687.22 L162.97,687.20 L163.46,687.17 L163.96,687.15 L164.45,687.13 L164.95,687.10 L165.45,687.08 L165.94,687.05 L166.44,687.03 L166.93,687.00 L167.43,686.98 L167.93,686.95 L168.42,686.93 L168.92,686.90 L169.41,686.88 L169.91,686.85 L170.41,686.83 L170.90,686.80 L171.40,686.78 L171.90,686.75 L172.39,686.72 L172.89,686.70 L173.38,686.67 L173.88,686.64 L174.38,686.62 L174.87,686.59 L175.37,686.56 L175.86,686.53 L176.36,686.51 L176.86,686.48 L177.35,686.45 L177.85,686.42 L178.34,686.39 L178.84,686.37 L179.34,686.34 L179.83,686.31 L180.33,686.28 L180.83,686.25 L181.32,686.22 L181.82,686.19 L182.31,686.16 L182.81,686.13 L183.31,686.10 L183.80,686.07 L184.30,686.04 L184.79,686.01 L185.29,685.98 L185.79,685.95 L186.28,685.92 L186.78,685.89 L187.28,685.85 L187.77,685.82 L188.27,685.79 L188.76,685.76 L189.26,685.73 L189.76,685.69 L190.25,685.66 L190.75,685.63 L191.24,685.59 L191.74,685.56 L192.24,685.53 L192.73,685.49 L193.23,685.46 L193.72,685.43 L194.22,685.39 L194.72,685.36 L195.21,685.32 L195.71,685.29 L196.21,685.25 L196.70,685.22 L197.20,685.18 L197.69,685.15 L198.19,685.11 L198.69,685.08 L199.18,685.04 L199.68,685.00 L200.17,684.97 L200.67,684.93 L201.17,684.89 L201.66,684.86 L202.16,684.82 L202.65,684.78 L203.15,684.74 L203.65,684.70 L204.14,684.67 L204.64,684.63 L205.14,684.59" stroke="#111" stroke-width="1.25" fill="none"/>
<path d="M59.50,571.70 L62.83,570.74 L66.16,569.77 L69.48,568.78 L72.81,567.78 L76.14,566.77 L79.47,565.75 L82.80,564.72 L86.13,563.68 L89.45,562.63 L92.78,561.57 L96.11,560.50 L99.44,559.43 L102.77,558.34 L106.10,557.25 L109.42,556.15 L112.75,555.05 L116.08,553.94 L119.41,552.82 L122.74,551.70 L126.07,550.57 L129.39,549.44 L132.72,548.30 L136.05,547.16 L139.38,546.02 L142.71,544.88 L146.03,543.73 L149.36,542.58 L152.69,541.43 L156.02,540.28M59.50,603.90 L62.83,603.12 L66.16,602.33 L69.48,601.53 L72.81,600.71 L76.14,599.89 L79.47,599.06 L82.80,598.22 L86.13,597.37 L89.45,596.51 L92.78,595.65 L96.11,594.77 L99.44,593.89 L102.77,593.01 L106.10,592.11 L109.42,591.22 L112.75,590.31 L116.08,589.40 L119.41,588.49 L122.74,587.57 L126.07,586.65 L129.39,585.73 L132.72,584.80 L136.05,583.88 L139.38,582.95 L142.71,582.02 L146.03,581.08 L149.36,580.15 L152.69,579.22 L156.02,578.29M59.50,629.67 L62.83,629.06 L66.16,628.43 L69.48,627.80 L72.81,627.15 L76.14,626.50 L79.47,625.84 L82.80,625.17 L86.13,624.49 L89.45,623.80 L92.78,623.11 L96.11,622.42 L99.44,621.71 L102.77,621.01 L106.10,620.29 L109.42,619.58 L112.75,618.86 L116.08,618.13 L119.41,617.40 L122.74,616.67 L126.07,615.94 L129.39,615.21 L132.72,614.47 L136.05,613.74 L139.38,613.00 L142.71,612.26 L146.03,611.53 L149.36,610.79 L152.69,610.06 L156.02,609.33M59.50,649.75 L62.83,649.28 L66.16,648.80 L69.48,648.31 L72.81,647.81 L76.14,647.31 L79.47,646.80 L82.80,646.28 L86.13,645.75 L89.45,645.22 L92.78,644.69 L96.11,644.15 L99.44,643.60 L102.77,643.06 L106.10,642.50 L109.42,641.95 L112.75,641.39 L116.08,640.83 L119.41,640.27 L122.74,639.71 L126.07,639.14 L129.39,638.58 L132.72,638.02 L136.05,637.45 L139.38,636.89 L142.71,636.33 L146.03,635.77 L149.36,635.21 L152.69,634.66 L156.02,634.11M59.50,664.84 L62.83,664.49 L66.16,664.14 L69.48,663.78 L72.81,663.41 L76.14,663.03 L79.47,662.65 L82.80,662.27 L86.13,661.88 L89.45,661.48 L92.78,661.08 L96.11,660.68 L99.44,660.27 L102.77,659.87 L106.10,659.46 L109.42,659.05 L112.75,658.63 L116.08,658.22 L119.41,657.80 L122.74,657.39 L126.07,656.98 L129.39,656.56 L132.72,656.15 L136.05,655.74 L139.38,655.34 L142.71,654.93 L146.03,654.53 L149.36,654.13 L152.69,653.74 L156.02,653.35M59.50,675.65 L62.83,675.41 L66.16,675.16 L69.48,674.91 L72.81,674.65 L76.14,674.38 L79.47,674.12 L82.80,673.84 L86.13,673.57 L89.45,673.29 L92.78,673.01 L96.11,672.73 L99.44,672.44 L102.77,672.15 L106.10,671.87 L109.42,671.58 L112.75,671.29 L116.08,671.00 L119.41,670.72 L122.74,670.43 L126.07,670.15 L129.39,669.87 L132.72,669.59 L136.05,669.32 L139.38,669.04 L142.71,668.78 L146.03,668.51 L149.36,668.26 L152.69,668.00 L156.02,667.76M59.50,682.90 L62.83,682.74 L66.16,682.58 L69.48,682.42 L72.81,682.25 L76.14,682.08 L79.47,681.90 L82.80,681.72 L86.13,681.54 L89.45,681.36 L92.78,681.18 L96.11,681.00 L99.44,680.81 L102.77,680.63 L106.10,680.44 L109.42,680.26 L112.75,680.08 L116.08,679.90 L119.41,679.72 L122.74,679.55 L126.07,679.38 L129.39,679.21 L132.72,679.05 L136.05,678.89 L139.38,678.73 L142.71,678.58 L146.03,678.44 L149.36,678.30 L152.69,678.17 L156.02,678.05M59.50,687.29 L62.83,687.20 L66.16,687.11 L69.48,687.02 L72.81,686.92 L76.14,686.82 L79.47,686.72 L82.80,686.62 L86.13,686.52 L89.45,686.41 L92.78,686.31 L96.11,686.21 L99.44,686.10 L102.77,686.00 L106.10,685.90 L109.42,685.81 L112.75,685.71 L116.08,685.62 L119.41,685.54 L122.74,685.45 L126.07,685.37 L129.39,685.30 L132.72,685.23 L136.05,685.17 L139.38,685.11 L142.71,685.06 L146.03,685.02 L149.36,684.98 L152.69,684.95 L156.02,684.93" stroke="#1c4b86" stroke-width="0.85" fill="none"/>
<path d="M156.02,540.28 L159.95,538.92 L163.88,537.57 L167.81,536.21 L171.73,534.85 L175.66,533.50 L179.59,532.15 L183.52,530.80 L187.45,529.46 L191.38,528.13 L195.31,526.79 L199.23,525.47 L203.16,524.16 L207.09,522.85 L211.02,521.55 L214.95,520.26 L218.88,518.98 L222.81,517.71 L226.73,516.46 L230.66,515.21 L234.59,513.98 L238.52,512.77 L242.45,511.56 L246.38,510.38 L250.31,509.21 L254.23,508.06 L258.16,506.92 L262.09,505.80 L266.02,504.70 L269.95,503.63 L273.88,502.57 L277.81,501.53 L281.73,500.52 L285.66,499.53 L289.59,498.56 L293.52,497.61 L297.45,496.70 L301.38,495.80 L305.31,494.93 L309.24,494.09 L313.16,493.28 L317.09,492.50 L321.02,491.74 L324.95,491.02 L328.88,490.33 L332.81,489.66 L336.74,489.03 L340.66,488.44 L344.59,487.87 L348.52,487.34 L352.45,486.85 L356.38,486.39 L360.31,485.97 L364.24,485.58 L368.16,485.23 L372.09,484.93 L376.02,484.66 L379.95,484.43 L383.88,484.24 L387.81,484.09 L391.74,483.99 L395.66,483.93 L399.59,483.91 L403.52,483.94 L407.45,484.01 L411.38,484.13 L415.31,484.29 L419.24,484.51 L423.16,484.77 L427.09,485.08 L431.02,485.44 L434.95,485.85 L438.88,486.31 L442.81,486.82 L446.74,487.38 L450.67,488.00 L454.59,488.67 L458.52,489.40 L462.45,490.18 L466.38,491.02 L470.31,491.91 L474.24,492.86 L478.17,493.87 L482.09,494.94 L486.02,496.07 L489.95,497.26 L493.88,498.51 L497.81,499.83 L501.74,501.20 L505.67,502.64 L509.59,504.14 L513.52,505.71 L517.45,507.34 L521.38,509.04 L525.31,510.81 L529.24,512.64 L533.17,514.55 L537.09,516.52 L541.02,518.56 L544.95,520.67M156.02,578.29 L159.46,577.33 L162.90,576.37 L166.33,575.41 L169.77,574.45 L173.21,573.50 L176.65,572.55 L180.09,571.61 L183.53,570.67 L186.96,569.73 L190.40,568.80 L193.84,567.88 L197.28,566.96 L200.72,566.05 L204.15,565.14 L207.59,564.25 L211.03,563.36 L214.47,562.48 L217.91,561.61 L221.35,560.75 L224.78,559.90 L228.22,559.06 L231.66,558.23 L235.10,557.42 L238.54,556.61 L241.98,555.82 L245.41,555.05 L248.85,554.28 L252.29,553.53 L255.73,552.80 L259.17,552.07 L262.61,551.37 L266.04,550.68 L269.48,550.01 L272.92,549.35 L276.36,548.72 L279.80,548.10 L283.23,547.50 L286.67,546.91 L290.11,546.35 L293.55,545.81 L296.99,545.29 L300.43,544.79 L303.86,544.31 L307.30,543.85 L310.74,543.41 L314.18,543.00 L317.62,542.61 L321.06,542.25 L324.49,541.91 L327.93,541.59 L331.37,541.30 L334.81,541.04 L338.25,540.80 L341.69,540.59 L345.12,540.40 L348.56,540.25 L352.00,540.12 L355.44,540.02 L358.88,539.95 L362.31,539.91 L365.75,539.90 L369.19,539.92 L372.63,539.97 L376.07,540.05 L379.51,540.17 L382.94,540.32 L386.38,540.50 L389.82,540.71 L393.26,540.96 L396.70,541.24 L400.14,541.56 L403.57,541.92 L407.01,542.31 L410.45,542.73 L413.89,543.20 L417.33,543.70 L420.77,544.24 L424.20,544.82 L427.64,545.43 L431.08,546.09 L434.52,546.78 L437.96,547.52 L441.39,548.30 L444.83,549.12 L448.27,549.98 L451.71,550.88 L455.15,551.83 L458.59,552.82 L462.02,553.85 L465.46,554.93 L468.90,556.05 L472.34,557.21 L475.78,558.43 L479.22,559.69 L482.65,560.99 L486.09,562.35 L489.53,563.75 L492.97,565.20 L496.41,566.70M156.02,609.33 L158.97,608.68 L161.92,608.04 L164.86,607.39 L167.81,606.76 L170.76,606.12 L173.71,605.49 L176.65,604.86 L179.60,604.23 L182.55,603.61 L185.50,602.99 L188.45,602.38 L191.39,601.78 L194.34,601.17 L197.29,600.58 L200.24,599.99 L203.19,599.41 L206.13,598.83 L209.08,598.26 L212.03,597.70 L214.98,597.15 L217.93,596.60 L220.87,596.06 L223.82,595.53 L226.77,595.01 L229.72,594.50 L232.66,594.00 L235.61,593.50 L238.56,593.02 L241.51,592.55 L244.46,592.09 L247.40,591.64 L250.35,591.20 L253.30,590.77 L256.25,590.36 L259.20,589.95 L262.14,589.56 L265.09,589.18 L268.04,588.82 L270.99,588.47 L273.94,588.13 L276.88,587.81 L279.83,587.50 L282.78,587.20 L285.73,586.92 L288.67,586.66 L291.62,586.41 L294.57,586.18 L297.52,585.96 L300.47,585.76 L303.41,585.57 L306.36,585.41 L309.31,585.26 L312.26,585.13 L315.21,585.01 L318.15,584.92 L321.10,584.84 L324.05,584.79 L327.00,584.75 L329.95,584.73 L332.89,584.73 L335.84,584.75 L338.79,584.79 L341.74,584.86 L344.69,584.94 L347.63,585.05 L350.58,585.17 L353.53,585.32 L356.48,585.49 L359.42,585.69 L362.37,585.90 L365.32,586.14 L368.27,586.41 L371.22,586.69 L374.16,587.01 L377.11,587.34 L380.06,587.70 L383.01,588.09 L385.96,588.50 L388.90,588.94 L391.85,589.40 L394.80,589.89 L397.75,590.41 L400.70,590.95 L403.64,591.52 L406.59,592.12 L409.54,592.74 L412.49,593.40 L415.43,594.08 L418.38,594.79 L421.33,595.53 L424.28,596.30 L427.23,597.10 L430.17,597.93 L433.12,598.79 L436.07,599.68 L439.02,600.60 L441.97,601.55 L444.91,602.53 L447.86,603.55M156.02,634.11 L158.48,633.70 L160.93,633.30 L163.39,632.90 L165.85,632.50 L168.31,632.11 L170.76,631.72 L173.22,631.33 L175.68,630.94 L178.14,630.56 L180.59,630.18 L183.05,629.80 L185.51,629.43 L187.97,629.06 L190.42,628.70 L192.88,628.34 L195.34,627.99 L197.80,627.64 L200.26,627.30 L202.71,626.96 L205.17,626.62 L207.63,626.29 L210.09,625.97 L212.54,625.66 L215.00,625.34 L217.46,625.04 L219.92,624.74 L222.37,624.45 L224.83,624.17 L227.29,623.89 L229.75,623.62 L232.20,623.35 L234.66,623.10 L237.12,622.85 L239.58,622.61 L242.03,622.38 L244.49,622.15 L246.95,621.94 L249.41,621.73 L251.86,621.53 L254.32,621.34 L256.78,621.16 L259.24,620.99 L261.69,620.82 L264.15,620.67 L266.61,620.53 L269.07,620.40 L271.52,620.27 L273.98,620.16 L276.44,620.06 L278.90,619.97 L281.35,619.89 L283.81,619.82 L286.27,619.76 L288.73,619.71 L291.18,619.68 L293.64,619.65 L296.10,619.64 L298.56,619.64 L301.01,619.65 L303.47,619.68 L305.93,619.72 L308.39,619.77 L310.84,619.83 L313.30,619.91 L315.76,620.00 L318.22,620.10 L320.67,620.22 L323.13,620.35 L325.59,620.49 L328.05,620.65 L330.51,620.83 L332.96,621.01 L335.42,621.22 L337.88,621.43 L340.34,621.67 L342.79,621.92 L345.25,622.18 L347.71,622.46 L350.17,622.75 L352.62,623.06 L355.08,623.39 L357.54,623.74 L360.00,624.10 L362.45,624.47 L364.91,624.87 L367.37,625.28 L369.83,625.70 L372.28,626.15 L374.74,626.61 L377.20,627.09 L379.66,627.59 L382.11,628.11 L384.57,628.64 L387.03,629.20 L389.49,629.77 L391.94,630.36 L394.40,630.97 L396.86,631.60 L399.32,632.25M156.02,653.35 L157.99,653.12 L159.95,652.89 L161.92,652.67 L163.89,652.45 L165.86,652.23 L167.82,652.01 L169.79,651.79 L171.76,651.58 L173.72,651.37 L175.69,651.16 L177.66,650.95 L179.63,650.75 L181.59,650.55 L183.56,650.35 L185.53,650.16 L187.49,649.97 L189.46,649.78 L191.43,649.59 L193.40,649.41 L195.36,649.23 L197.33,649.06 L199.30,648.89 L201.26,648.72 L203.23,648.56 L205.20,648.40 L207.17,648.24 L209.13,648.09 L211.10,647.94 L213.07,647.80 L215.04,647.66 L217.00,647.53 L218.97,647.40 L220.94,647.27 L222.90,647.15 L224.87,647.04 L226.84,646.93 L228.81,646.82 L230.77,646.72 L232.74,646.63 L234.71,646.54 L236.67,646.45 L238.64,646.37 L240.61,646.30 L242.58,646.23 L244.54,646.17 L246.51,646.11 L248.48,646.06 L250.44,646.02 L252.41,645.98 L254.38,645.94 L256.35,645.92 L258.31,645.90 L260.28,645.88 L262.25,645.88 L264.21,645.88 L266.18,645.88 L268.15,645.90 L270.12,645.92 L272.08,645.94 L274.05,645.98 L276.02,646.02 L277.99,646.07 L279.95,646.13 L281.92,646.19 L283.89,646.26 L285.85,646.34 L287.82,646.43 L289.79,646.52 L291.76,646.62 L293.72,646.73 L295.69,646.85 L297.66,646.98 L299.62,647.11 L301.59,647.25 L303.56,647.41 L305.53,647.57 L307.49,647.74 L309.46,647.91 L311.43,648.10 L313.39,648.29 L315.36,648.50 L317.33,648.71 L319.30,648.93 L321.26,649.17 L323.23,649.41 L325.20,649.66 L327.16,649.92 L329.13,650.19 L331.10,650.47 L333.07,650.76 L335.03,651.06 L337.00,651.36 L338.97,651.68 L340.94,652.01 L342.90,652.35 L344.87,652.70 L346.84,653.06 L348.80,653.44 L350.77,653.82M156.02,667.76 L157.50,667.65 L158.97,667.54 L160.45,667.44 L161.93,667.33 L163.40,667.23 L164.88,667.13 L166.36,667.03 L167.83,666.93 L169.31,666.84 L170.79,666.74 L172.26,666.65 L173.74,666.56 L175.22,666.47 L176.69,666.38 L178.17,666.29 L179.65,666.21 L181.13,666.12 L182.60,666.04 L184.08,665.96 L185.56,665.89 L187.03,665.81 L188.51,665.74 L189.99,665.67 L191.46,665.60 L192.94,665.53 L194.42,665.47 L195.89,665.41 L197.37,665.35 L198.85,665.29 L200.32,665.23 L201.80,665.18 L203.28,665.13 L204.75,665.08 L206.23,665.04 L207.71,664.99 L209.19,664.95 L210.66,664.91 L212.14,664.88 L213.62,664.85 L215.09,664.82 L216.57,664.79 L218.05,664.77 L219.52,664.74 L221.00,664.73 L222.48,664.71 L223.95,664.70 L225.43,664.69 L226.91,664.68 L228.38,664.68 L229.86,664.68 L231.34,664.68 L232.81,664.69 L234.29,664.69 L235.77,664.71 L237.25,664.72 L238.72,664.74 L240.20,664.76 L241.68,664.79 L243.15,664.82 L244.63,664.85 L246.11,664.89 L247.58,664.93 L249.06,664.97 L250.54,665.02 L252.01,665.07 L253.49,665.12 L254.97,665.18 L256.44,665.24 L257.92,665.31 L259.40,665.38 L260.87,665.45 L262.35,665.53 L263.83,665.61 L265.31,665.70 L266.78,665.79 L268.26,665.88 L269.74,665.98 L271.21,666.08 L272.69,666.19 L274.17,666.30 L275.64,666.42 L277.12,666.54 L278.60,666.66 L280.07,666.79 L281.55,666.92 L283.03,667.06 L284.50,667.20 L285.98,667.35 L287.46,667.50 L288.93,667.65 L290.41,667.81 L291.89,667.98 L293.36,668.15 L294.84,668.32 L296.32,668.50 L297.80,668.69 L299.27,668.88 L300.75,669.07 L302.23,669.27M156.02,678.05 L157.01,678.01 L157.99,677.98 L158.98,677.94 L159.97,677.91 L160.95,677.88 L161.94,677.85 L162.92,677.82 L163.91,677.79 L164.90,677.76 L165.88,677.73 L166.87,677.70 L167.86,677.67 L168.84,677.65 L169.83,677.62 L170.82,677.60 L171.80,677.57 L172.79,677.55 L173.78,677.53 L174.76,677.51 L175.75,677.48 L176.74,677.47 L177.72,677.45 L178.71,677.43 L179.69,677.41 L180.68,677.40 L181.67,677.38 L182.65,677.37 L183.64,677.35 L184.63,677.34 L185.61,677.33 L186.60,677.32 L187.59,677.31 L188.57,677.30 L189.56,677.30 L190.55,677.29 L191.53,677.29 L192.52,677.28 L193.51,677.28 L194.49,677.28 L195.48,677.28 L196.46,677.28 L197.45,677.28 L198.44,677.28 L199.42,677.29 L200.41,677.29 L201.40,677.30 L202.38,677.31 L203.37,677.32 L204.36,677.33 L205.34,677.34 L206.33,677.35 L207.32,677.36 L208.30,677.38 L209.29,677.40 L210.28,677.41 L211.26,677.43 L212.25,677.45 L213.24,677.47 L214.22,677.50 L215.21,677.52 L216.19,677.55 L217.18,677.57 L218.17,677.60 L219.15,677.63 L220.14,677.66 L221.13,677.69 L222.11,677.73 L223.10,677.76 L224.09,677.80 L225.07,677.84 L226.06,677.88 L227.05,677.92 L228.03,677.96 L229.02,678.01 L230.01,678.05 L230.99,678.10 L231.98,678.15 L232.96,678.20 L233.95,678.25 L234.94,678.30 L235.92,678.36 L236.91,678.41 L237.90,678.47 L238.88,678.53 L239.87,678.59 L240.86,678.66 L241.84,678.72 L242.83,678.79 L243.82,678.86 L244.80,678.93 L245.79,679.00 L246.78,679.07 L247.76,679.15 L248.75,679.22 L249.73,679.30 L250.72,679.38 L251.71,679.46 L252.69,679.55 L253.68,679.63M156.02,684.93 L156.52,684.93 L157.01,684.93 L157.51,684.93 L158.00,684.93 L158.50,684.93 L159.00,684.92 L159.49,684.92 L159.99,684.92 L160.48,684.92 L160.98,684.92 L161.48,684.92 L161.97,684.92 L162.47,684.92 L162.97,684.92 L163.46,684.92 L163.96,684.92 L164.45,684.93 L164.95,684.93 L165.45,684.93 L165.94,684.93 L166.44,684.93 L166.93,684.94 L167.43,684.94 L167.93,684.94 L168.42,684.94 L168.92,684.95 L169.41,684.95 L169.91,684.95 L170.41,684.96 L170.90,684.96 L171.40,684.97 L171.90,684.97 L172.39,684.98 L172.89,684.98 L173.38,684.99 L173.88,684.99 L174.38,685.00 L174.87,685.01 L175.37,685.01 L175.86,685.02 L176.36,685.03 L176.86,685.03 L177.35,685.04 L177.85,685.05 L178.34,685.06 L178.84,685.06 L179.34,685.07 L179.83,685.08 L180.33,685.09 L180.83,685.10 L181.32,685.11 L181.82,685.12 L182.31,685.13 L182.81,685.14 L183.31,685.15 L183.80,685.16 L184.30,685.17 L184.79,685.18 L185.29,685.20 L185.79,685.21 L186.28,685.22 L186.78,685.23 L187.28,685.25 L187.77,685.26 L188.27,685.27 L188.76,685.29 L189.26,685.30 L189.76,685.31 L190.25,685.33 L190.75,685.34 L191.24,685.36 L191.74,685.38 L192.24,685.39 L192.73,685.41 L193.23,685.42 L193.72,685.44 L194.22,685.46 L194.72,685.48 L195.21,685.49 L195.71,685.51 L196.21,685.53 L196.70,685.55 L197.20,685.57 L197.69,685.59 L198.19,685.61 L198.69,685.63 L199.18,685.65 L199.68,685.67 L200.17,685.69 L200.67,685.71 L201.17,685.73 L201.66,685.75 L202.16,685.77 L202.65,685.80 L203.15,685.82 L203.65,685.84 L204.14,685.87 L204.64,685.89 L205.14,685.91" stroke="#1c4b86" stroke-width="1.5" fill="none"/>
<path d="M59.50,437.50 L61.14,435.76 L62.77,434.04 L64.41,432.34 L66.04,430.65 L67.68,428.97 L69.32,427.30 L70.95,425.65 L72.59,424.02 L74.22,422.40 L75.86,420.79 L77.50,419.19 L79.13,417.62 L80.77,416.05 L82.40,414.50 L84.04,412.96 L85.67,411.44 L87.31,409.93 L88.95,408.43 L90.58,406.95 L92.22,405.48 L93.85,404.02 L95.49,402.58 L97.13,401.15 L98.76,399.73 L100.40,398.33 L102.03,396.94 L103.67,395.56 L105.31,394.20 L106.94,392.85 L108.58,391.51 L110.21,390.19 L111.85,388.87 L113.49,387.57 L115.12,386.29 L116.76,385.01 L118.39,383.75 L120.03,382.50 L121.66,381.26 L123.30,380.03 L124.94,378.82 L126.57,377.61 L128.21,376.42 L129.84,375.24 L131.48,374.08 L133.12,372.92 L134.75,371.78 L136.39,370.64 L138.02,369.52 L139.66,368.41 L141.30,367.31 L142.93,366.22 L144.57,365.14 L146.20,364.07 L147.84,363.02 L149.48,361.97 L151.11,360.94 L152.75,359.91 L154.38,358.90 L156.02,357.89M59.50,437.50 L61.14,435.57 L62.77,433.66 L64.41,431.77 L66.04,429.90 L67.68,428.04 L69.32,426.20 L70.95,424.38 L72.59,422.58 L74.22,420.79 L75.86,419.02 L77.50,417.27 L79.13,415.53 L80.77,413.81 L82.40,412.11 L84.04,410.43 L85.67,408.76 L87.31,407.11 L88.95,405.48 L90.58,403.86 L92.22,402.26 L93.85,400.68 L95.49,399.11 L97.13,397.56 L98.76,396.02 L100.40,394.50 L102.03,393.00 L103.67,391.51 L105.31,390.04 L106.94,388.58 L108.58,387.14 L110.21,385.72 L111.85,384.31 L113.49,382.91 L115.12,381.53 L116.76,380.17 L118.39,378.82 L120.03,377.48 L121.66,376.16 L123.30,374.85 L124.94,373.56 L126.57,372.28 L128.21,371.02 L129.84,369.77 L131.48,368.53 L133.12,367.31 L134.75,366.10 L136.39,364.90 L138.02,363.72 L139.66,362.55 L141.30,361.39 L142.93,360.25 L144.57,359.12 L146.20,358.00 L147.84,356.90 L149.48,355.80 L151.11,354.72 L152.75,353.65 L154.38,352.60 L156.02,351.55M59.50,437.50 L61.14,435.33 L62.77,433.19 L64.41,431.07 L66.04,428.97 L67.68,426.89 L69.32,424.83 L70.95,422.80 L72.59,420.79 L74.22,418.80 L75.86,416.83 L77.50,414.88 L79.13,412.96 L80.77,411.06 L82.40,409.18 L84.04,407.32 L85.67,405.48 L87.31,403.66 L88.95,401.86 L90.58,400.09 L92.22,398.33 L93.85,396.60 L95.49,394.88 L97.13,393.19 L98.76,391.51 L100.40,389.86 L102.03,388.22 L103.67,386.61 L105.31,385.01 L106.94,383.43 L108.58,381.88 L110.21,380.34 L111.85,378.82 L113.49,377.32 L115.12,375.83 L116.76,374.37 L118.39,372.92 L120.03,371.49 L121.66,370.08 L123.30,368.69 L124.94,367.31 L126.57,365.95 L128.21,364.61 L129.84,363.28 L131.48,361.97 L133.12,360.68 L134.75,359.40 L136.39,358.14 L138.02,356.90 L139.66,355.67 L141.30,354.45 L142.93,353.26 L144.57,352.07 L146.20,350.90 L147.84,349.75 L149.48,348.61 L151.11,347.49 L152.75,346.38 L154.38,345.29 L156.02,344.21M59.50,437.50 L61.14,435.03 L62.77,432.58 L64.41,430.16 L66.04,427.78 L67.68,425.42 L69.32,423.09 L70.95,420.79 L72.59,418.52 L74.22,416.27 L75.86,414.06 L77.50,411.87 L79.13,409.71 L80.77,407.58 L82.40,405.48 L84.04,403.40 L85.67,401.35 L87.31,399.33 L88.95,397.34 L90.58,395.37 L92.22,393.43 L93.85,391.51 L95.49,389.62 L97.13,387.76 L98.76,385.92 L100.40,384.11 L102.03,382.32 L103.67,380.56 L105.31,378.82 L106.94,377.10 L108.58,375.41 L110.21,373.75 L111.85,372.10 L113.49,370.48 L115.12,368.88 L116.76,367.31 L118.39,365.76 L120.03,364.23 L121.66,362.72 L123.30,361.23 L124.94,359.76 L126.57,358.32 L128.21,356.90 L129.84,355.49 L131.48,354.11 L133.12,352.75 L134.75,351.40 L136.39,350.08 L138.02,348.78 L139.66,347.49 L141.30,346.22 L142.93,344.98 L144.57,343.75 L146.20,342.54 L147.84,341.34 L149.48,340.17 L151.11,339.01 L152.75,337.87 L154.38,336.74 L156.02,335.63M59.50,437.50 L61.14,434.62 L62.77,431.77 L64.41,428.97 L66.04,426.20 L67.68,423.48 L69.32,420.79 L70.95,418.14 L72.59,415.53 L74.22,412.96 L75.86,410.43 L77.50,407.93 L79.13,405.48 L80.77,403.06 L82.40,400.68 L84.04,398.33 L85.67,396.02 L87.31,393.75 L88.95,391.51 L90.58,389.31 L92.22,387.14 L93.85,385.01 L95.49,382.91 L97.13,380.85 L98.76,378.82 L100.40,376.82 L102.03,374.85 L103.67,372.92 L105.31,371.02 L106.94,369.15 L108.58,367.31 L110.21,365.50 L111.85,363.72 L113.49,361.97 L115.12,360.25 L116.76,358.56 L118.39,356.90 L120.03,355.26 L121.66,353.65 L123.30,352.07 L124.94,350.52 L126.57,348.99 L128.21,347.49 L129.84,346.01 L131.48,344.56 L133.12,343.14 L134.75,341.74 L136.39,340.36 L138.02,339.01 L139.66,337.68 L141.30,336.37 L142.93,335.09 L144.57,333.83 L146.20,332.59 L147.84,331.37 L149.48,330.17 L151.11,329.00 L152.75,327.85 L154.38,326.71 L156.02,325.60M59.50,437.50 L61.14,434.04 L62.77,430.65 L64.41,427.30 L66.04,424.02 L67.68,420.79 L69.32,417.62 L70.95,414.50 L72.59,411.44 L74.22,408.43 L75.86,405.48 L77.50,402.58 L79.13,399.73 L80.77,396.94 L82.40,394.20 L84.04,391.51 L85.67,388.87 L87.31,386.29 L88.95,383.75 L90.58,381.26 L92.22,378.82 L93.85,376.42 L95.49,374.08 L97.13,371.78 L98.76,369.52 L100.40,367.31 L102.03,365.14 L103.67,363.02 L105.31,360.94 L106.94,358.90 L108.58,356.90 L110.21,354.94 L111.85,353.02 L113.49,351.14 L115.12,349.30 L116.76,347.49 L118.39,345.72 L120.03,343.99 L121.66,342.29 L123.30,340.63 L124.94,339.01 L126.57,337.41 L128.21,335.85 L129.84,334.33 L131.48,332.83 L133.12,331.37 L134.75,329.94 L136.39,328.54 L138.02,327.16 L139.66,325.82 L141.30,324.51 L142.93,323.22 L144.57,321.96 L146.20,320.74 L147.84,319.53 L149.48,318.36 L151.11,317.21 L152.75,316.09 L154.38,314.99 L156.02,313.92M59.50,437.50 L61.14,433.19 L62.77,428.97 L64.41,424.83 L66.04,420.79 L67.68,416.83 L69.32,412.96 L70.95,409.18 L72.59,405.48 L74.22,401.86 L75.86,398.33 L77.50,394.88 L79.13,391.51 L80.77,388.22 L82.40,385.01 L84.04,381.88 L85.67,378.82 L87.31,375.83 L88.95,372.92 L90.58,370.08 L92.22,367.31 L93.85,364.61 L95.49,361.97 L97.13,359.40 L98.76,356.90 L100.40,354.45 L102.03,352.07 L103.67,349.75 L105.31,347.49 L106.94,345.29 L108.58,343.14 L110.21,341.05 L111.85,339.01 L113.49,337.02 L115.12,335.09 L116.76,333.20 L118.39,331.37 L120.03,329.58 L121.66,327.85 L123.30,326.15 L124.94,324.51 L126.57,322.90 L128.21,321.35 L129.84,319.83 L131.48,318.36 L133.12,316.93 L134.75,315.53 L136.39,314.18 L138.02,312.87 L139.66,311.60 L141.30,310.36 L142.93,309.16 L144.57,308.00 L146.20,306.88 L147.84,305.79 L149.48,304.73 L151.11,303.71 L152.75,302.73 L154.38,301.78 L156.02,300.87M59.50,437.50 L61.14,431.77 L62.77,426.20 L64.41,420.79 L66.04,415.53 L67.68,410.43 L69.32,405.48 L70.95,400.68 L72.59,396.02 L74.22,391.51 L75.86,387.14 L77.50,382.91 L79.13,378.82 L80.77,374.85 L82.40,371.02 L84.04,367.31 L85.67,363.72 L87.31,360.25 L88.95,356.90 L90.58,353.65 L92.22,350.52 L93.85,347.49 L95.49,344.56 L97.13,341.74 L98.76,339.01 L100.40,336.37 L102.03,333.83 L103.67,331.37 L105.31,329.00 L106.94,326.71 L108.58,324.51 L110.21,322.38 L111.85,320.33 L113.49,318.36 L115.12,316.46 L116.76,314.63 L118.39,312.87 L120.03,311.18 L121.66,309.56 L123.30,308.00 L124.94,306.51 L126.57,305.08 L128.21,303.71 L129.84,302.41 L131.48,301.17 L133.12,299.99 L134.75,298.86 L136.39,297.80 L138.02,296.80 L139.66,295.85 L141.30,294.97 L142.93,294.14 L144.57,293.37 L146.20,292.67 L147.84,292.02 L149.48,291.43 L151.11,290.91 L152.75,290.45 L154.38,290.05 L156.02,289.71" stroke="#555" stroke-width="0.8" fill="none"/>
<path d="M156.02,357.89 L159.95,355.52 L163.88,353.21 L167.81,350.95 L171.73,348.74 L175.66,346.60 L179.59,344.50 L183.52,342.45 L187.45,340.46 L191.38,338.52 L195.31,336.62 L199.23,334.77 L203.16,332.97 L207.09,331.21 L211.02,329.50 L214.95,327.83 L218.88,326.20 L222.81,324.62 L226.73,323.08 L230.66,321.58 L234.59,320.11 L238.52,318.69 L242.45,317.30 L246.38,315.96 L250.31,314.65 L254.23,313.37 L258.16,312.13 L262.09,310.93 L266.02,309.76 L269.95,308.63 L273.88,307.53 L277.81,306.46 L281.73,305.43 L285.66,304.42 L289.59,303.46 L293.52,302.52 L297.45,301.61 L301.38,300.74 L305.31,299.90 L309.24,299.09 L313.16,298.31 L317.09,297.56 L321.02,296.84 L324.95,296.15 L328.88,295.49 L332.81,294.87 L336.74,294.27 L340.66,293.70 L344.59,293.17 L348.52,292.67 L352.45,292.19 L356.38,291.75 L360.31,291.34 L364.24,290.97 L368.16,290.62 L372.09,290.31 L376.02,290.03 L379.95,289.79 L383.88,289.57 L387.81,289.40 L391.74,289.26 L395.66,289.15 L399.59,289.08 L403.52,289.05 L407.45,289.05 L411.38,289.10 L415.31,289.18 L419.24,289.31 L423.16,289.48 L427.09,289.69 L431.02,289.95 L434.95,290.25 L438.88,290.60 L442.81,291.00 L446.74,291.45 L450.67,291.95 L454.59,292.51 L458.52,293.12 L462.45,293.79 L466.38,294.52 L470.31,295.32 L474.24,296.18 L478.17,297.11 L482.09,298.11 L486.02,299.19 L489.95,300.35 L493.88,301.59 L497.81,302.92 L501.74,304.34 L505.67,305.85 L509.59,307.47 L513.52,309.19 L517.45,311.02 L521.38,312.98 L525.31,315.06 L529.24,317.27 L533.17,319.63 L537.09,322.14 L541.02,324.81 L544.95,327.65M156.02,351.55 L159.46,349.39 L162.90,347.29 L166.33,345.23 L169.77,343.23 L173.21,341.27 L176.65,339.36 L180.09,337.49 L183.53,335.67 L186.96,333.90 L190.40,332.16 L193.84,330.48 L197.28,328.83 L200.72,327.22 L204.15,325.66 L207.59,324.13 L211.03,322.64 L214.47,321.19 L217.91,319.78 L221.35,318.40 L224.78,317.06 L228.22,315.76 L231.66,314.49 L235.10,313.25 L238.54,312.05 L241.98,310.88 L245.41,309.75 L248.85,308.64 L252.29,307.57 L255.73,306.53 L259.17,305.53 L262.61,304.55 L266.04,303.60 L269.48,302.69 L272.92,301.80 L276.36,300.94 L279.80,300.12 L283.23,299.32 L286.67,298.55 L290.11,297.81 L293.55,297.10 L296.99,296.42 L300.43,295.77 L303.86,295.15 L307.30,294.55 L310.74,293.99 L314.18,293.45 L317.62,292.95 L321.06,292.47 L324.49,292.02 L327.93,291.61 L331.37,291.22 L334.81,290.86 L338.25,290.54 L341.69,290.24 L345.12,289.98 L348.56,289.74 L352.00,289.54 L355.44,289.38 L358.88,289.24 L362.31,289.14 L365.75,289.08 L369.19,289.05 L372.63,289.05 L376.07,289.10 L379.51,289.18 L382.94,289.30 L386.38,289.46 L389.82,289.66 L393.26,289.90 L396.70,290.19 L400.14,290.52 L403.57,290.89 L407.01,291.32 L410.45,291.79 L413.89,292.31 L417.33,292.89 L420.77,293.52 L424.20,294.21 L427.64,294.95 L431.08,295.76 L434.52,296.63 L437.96,297.57 L441.39,298.58 L444.83,299.66 L448.27,300.82 L451.71,302.06 L455.15,303.38 L458.59,304.79 L462.02,306.29 L465.46,307.88 L468.90,309.58 L472.34,311.39 L475.78,313.31 L479.22,315.36 L482.65,317.53 L486.09,319.83 L489.53,322.28 L492.97,324.89 L496.41,327.65M156.02,344.21 L158.97,342.29 L161.92,340.42 L164.86,338.60 L167.81,336.82 L170.76,335.08 L173.71,333.38 L176.65,331.72 L179.60,330.10 L182.55,328.52 L185.50,326.98 L188.45,325.47 L191.39,324.00 L194.34,322.57 L197.29,321.17 L200.24,319.81 L203.19,318.48 L206.13,317.19 L209.08,315.92 L212.03,314.69 L214.98,313.50 L217.93,312.33 L220.87,311.20 L223.82,310.09 L226.77,309.02 L229.72,307.97 L232.66,306.96 L235.61,305.97 L238.56,305.02 L241.51,304.09 L244.46,303.19 L247.40,302.32 L250.35,301.47 L253.30,300.66 L256.25,299.87 L259.20,299.11 L262.14,298.38 L265.09,297.67 L268.04,296.99 L270.99,296.34 L273.94,295.71 L276.88,295.11 L279.83,294.54 L282.78,294.00 L285.73,293.48 L288.67,292.99 L291.62,292.53 L294.57,292.09 L297.52,291.68 L300.47,291.30 L303.41,290.95 L306.36,290.63 L309.31,290.34 L312.26,290.07 L315.21,289.83 L318.15,289.63 L321.10,289.45 L324.05,289.31 L327.00,289.19 L329.95,289.11 L332.89,289.06 L335.84,289.05 L338.79,289.06 L341.74,289.12 L344.69,289.20 L347.63,289.33 L350.58,289.49 L353.53,289.69 L356.48,289.93 L359.42,290.21 L362.37,290.53 L365.32,290.89 L368.27,291.30 L371.22,291.75 L374.16,292.25 L377.11,292.80 L380.06,293.40 L383.01,294.05 L385.96,294.76 L388.90,295.52 L391.85,296.34 L394.80,297.23 L397.75,298.17 L400.70,299.19 L403.64,300.27 L406.59,301.42 L409.54,302.65 L412.49,303.96 L415.43,305.36 L418.38,306.84 L421.33,308.41 L424.28,310.09 L427.23,311.86 L430.17,313.74 L433.12,315.73 L436.07,317.85 L439.02,320.09 L441.97,322.46 L444.91,324.98 L447.86,327.65M156.02,335.63 L158.48,334.00 L160.93,332.41 L163.39,330.85 L165.85,329.32 L168.31,327.83 L170.76,326.38 L173.22,324.96 L175.68,323.57 L178.14,322.21 L180.59,320.89 L183.05,319.60 L185.51,318.34 L187.97,317.10 L190.42,315.90 L192.88,314.73 L195.34,313.59 L197.80,312.47 L200.26,311.39 L202.71,310.33 L205.17,309.30 L207.63,308.30 L210.09,307.32 L212.54,306.37 L215.00,305.45 L217.46,304.55 L219.92,303.68 L222.37,302.84 L224.83,302.02 L227.29,301.22 L229.75,300.45 L232.20,299.71 L234.66,298.99 L237.12,298.29 L239.58,297.62 L242.03,296.97 L244.49,296.35 L246.95,295.76 L249.41,295.18 L251.86,294.63 L254.32,294.11 L256.78,293.61 L259.24,293.14 L261.69,292.69 L264.15,292.26 L266.61,291.86 L269.07,291.49 L271.52,291.14 L273.98,290.82 L276.44,290.52 L278.90,290.25 L281.35,290.00 L283.81,289.79 L286.27,289.60 L288.73,289.43 L291.18,289.30 L293.64,289.19 L296.10,289.11 L298.56,289.06 L301.01,289.05 L303.47,289.06 L305.93,289.10 L308.39,289.18 L310.84,289.29 L313.30,289.43 L315.76,289.60 L318.22,289.82 L320.67,290.06 L323.13,290.35 L325.59,290.67 L328.05,291.03 L330.51,291.44 L332.96,291.88 L335.42,292.37 L337.88,292.90 L340.34,293.48 L342.79,294.11 L345.25,294.79 L347.71,295.51 L350.17,296.30 L352.62,297.13 L355.08,298.03 L357.54,298.98 L360.00,300.00 L362.45,301.08 L364.91,302.23 L367.37,303.45 L369.83,304.74 L372.28,306.12 L374.74,307.57 L377.20,309.11 L379.66,310.74 L382.11,312.47 L384.57,314.29 L387.03,316.22 L389.49,318.26 L391.94,320.42 L394.40,322.70 L396.86,325.11 L399.32,327.65M156.02,325.60 L157.99,324.29 L159.95,323.01 L161.92,321.75 L163.89,320.52 L165.86,319.32 L167.82,318.15 L169.79,317.00 L171.76,315.88 L173.72,314.79 L175.69,313.72 L177.66,312.68 L179.63,311.66 L181.59,310.66 L183.56,309.69 L185.53,308.74 L187.49,307.82 L189.46,306.92 L191.43,306.04 L193.40,305.19 L195.36,304.36 L197.33,303.55 L199.30,302.76 L201.26,302.00 L203.23,301.25 L205.20,300.53 L207.17,299.83 L209.13,299.16 L211.10,298.50 L213.07,297.87 L215.04,297.25 L217.00,296.66 L218.97,296.09 L220.94,295.54 L222.90,295.02 L224.87,294.51 L226.84,294.03 L228.81,293.56 L230.77,293.12 L232.74,292.70 L234.71,292.30 L236.67,291.93 L238.64,291.57 L240.61,291.24 L242.58,290.93 L244.54,290.64 L246.51,290.38 L248.48,290.14 L250.44,289.92 L252.41,289.72 L254.38,289.55 L256.35,289.41 L258.31,289.28 L260.28,289.19 L262.25,289.11 L264.21,289.07 L266.18,289.05 L268.15,289.05 L270.12,289.09 L272.08,289.15 L274.05,289.24 L276.02,289.36 L277.99,289.50 L279.95,289.68 L281.92,289.89 L283.89,290.13 L285.85,290.40 L287.82,290.71 L289.79,291.05 L291.76,291.43 L293.72,291.84 L295.69,292.30 L297.66,292.79 L299.62,293.32 L301.59,293.89 L303.56,294.50 L305.53,295.16 L307.49,295.86 L309.46,296.61 L311.43,297.41 L313.39,298.26 L315.36,299.17 L317.33,300.13 L319.30,301.14 L321.26,302.22 L323.23,303.36 L325.20,304.56 L327.16,305.83 L329.13,307.17 L331.10,308.58 L333.07,310.07 L335.03,311.64 L337.00,313.30 L338.97,315.04 L340.94,316.88 L342.90,318.82 L344.87,320.86 L346.84,323.01 L348.80,325.27 L350.77,327.65M156.02,313.92 L157.50,312.97 L158.97,312.05 L160.45,311.14 L161.93,310.25 L163.40,309.39 L164.88,308.54 L166.36,307.71 L167.83,306.90 L169.31,306.11 L170.79,305.34 L172.26,304.58 L173.74,303.85 L175.22,303.13 L176.69,302.43 L178.17,301.75 L179.65,301.09 L181.13,300.44 L182.60,299.81 L184.08,299.20 L185.56,298.61 L187.03,298.03 L188.51,297.48 L189.99,296.94 L191.46,296.41 L192.94,295.91 L194.42,295.42 L195.89,294.95 L197.37,294.49 L198.85,294.06 L200.32,293.64 L201.80,293.24 L203.28,292.85 L204.75,292.48 L206.23,292.14 L207.71,291.80 L209.19,291.49 L210.66,291.20 L212.14,290.92 L213.62,290.66 L215.09,290.42 L216.57,290.20 L218.05,289.99 L219.52,289.81 L221.00,289.64 L222.48,289.50 L223.95,289.37 L225.43,289.27 L226.91,289.18 L228.38,289.12 L229.86,289.07 L231.34,289.05 L232.81,289.05 L234.29,289.07 L235.77,289.11 L237.25,289.18 L238.72,289.26 L240.20,289.38 L241.68,289.51 L243.15,289.67 L244.63,289.86 L246.11,290.07 L247.58,290.31 L249.06,290.58 L250.54,290.87 L252.01,291.19 L253.49,291.54 L254.97,291.92 L256.44,292.33 L257.92,292.77 L259.40,293.25 L260.87,293.75 L262.35,294.30 L263.83,294.88 L265.31,295.49 L266.78,296.14 L268.26,296.83 L269.74,297.56 L271.21,298.34 L272.69,299.15 L274.17,300.01 L275.64,300.92 L277.12,301.87 L278.60,302.88 L280.07,303.93 L281.55,305.04 L283.03,306.21 L284.50,307.43 L285.98,308.71 L287.46,310.06 L288.93,311.47 L290.41,312.95 L291.89,314.50 L293.36,316.13 L294.84,317.83 L296.32,319.61 L297.80,321.49 L299.27,323.45 L300.75,325.50 L302.23,327.65M156.02,300.87 L157.01,300.33 L157.99,299.81 L158.98,299.30 L159.97,298.80 L160.95,298.31 L161.94,297.84 L162.92,297.38 L163.91,296.93 L164.90,296.49 L165.88,296.06 L166.87,295.65 L167.86,295.25 L168.84,294.86 L169.83,294.48 L170.82,294.11 L171.80,293.76 L172.79,293.42 L173.78,293.09 L174.76,292.77 L175.75,292.47 L176.74,292.18 L177.72,291.90 L178.71,291.63 L179.69,291.38 L180.68,291.13 L181.67,290.91 L182.65,290.69 L183.64,290.48 L184.63,290.29 L185.61,290.12 L186.60,289.95 L187.59,289.80 L188.57,289.66 L189.56,289.54 L190.55,289.43 L191.53,289.33 L192.52,289.25 L193.51,289.18 L194.49,289.12 L195.48,289.08 L196.46,289.06 L197.45,289.05 L198.44,289.05 L199.42,289.07 L200.41,289.11 L201.40,289.16 L202.38,289.23 L203.37,289.31 L204.36,289.41 L205.34,289.53 L206.33,289.66 L207.32,289.81 L208.30,289.98 L209.29,290.17 L210.28,290.38 L211.26,290.60 L212.25,290.85 L213.24,291.11 L214.22,291.40 L215.21,291.70 L216.19,292.03 L217.18,292.38 L218.17,292.75 L219.15,293.14 L220.14,293.55 L221.13,293.99 L222.11,294.46 L223.10,294.94 L224.09,295.46 L225.07,296.00 L226.06,296.57 L227.05,297.16 L228.03,297.78 L229.02,298.44 L230.01,299.12 L230.99,299.83 L231.98,300.58 L232.96,301.36 L233.95,302.17 L234.94,303.02 L235.92,303.90 L236.91,304.82 L237.90,305.78 L238.88,306.78 L239.87,307.82 L240.86,308.90 L241.84,310.03 L242.83,311.20 L243.82,312.42 L244.80,313.69 L245.79,315.01 L246.78,316.38 L247.76,317.81 L248.75,319.30 L249.73,320.84 L250.72,322.44 L251.71,324.11 L252.69,325.85 L253.68,327.65M156.02,289.71 L156.52,289.62 L157.01,289.54 L157.51,289.47 L158.00,289.40 L158.50,289.33 L159.00,289.27 L159.49,289.22 L159.99,289.18 L160.48,289.14 L160.98,289.11 L161.48,289.08 L161.97,289.06 L162.47,289.05 L162.97,289.05 L163.46,289.05 L163.96,289.06 L164.45,289.07 L164.95,289.09 L165.45,289.12 L165.94,289.16 L166.44,289.20 L166.93,289.25 L167.43,289.31 L167.93,289.38 L168.42,289.45 L168.92,289.53 L169.41,289.62 L169.91,289.72 L170.41,289.82 L170.90,289.94 L171.40,290.06 L171.90,290.18 L172.39,290.32 L172.89,290.47 L173.38,290.62 L173.88,290.79 L174.38,290.96 L174.87,291.14 L175.37,291.33 L175.86,291.53 L176.36,291.74 L176.86,291.95 L177.35,292.18 L177.85,292.42 L178.34,292.67 L178.84,292.92 L179.34,293.19 L179.83,293.47 L180.33,293.76 L180.83,294.06 L181.32,294.37 L181.82,294.69 L182.31,295.02 L182.81,295.37 L183.31,295.72 L183.80,296.09 L184.30,296.47 L184.79,296.86 L185.29,297.27 L185.79,297.69 L186.28,298.12 L186.78,298.56 L187.28,299.02 L187.77,299.49 L188.27,299.98 L188.76,300.48 L189.26,301.00 L189.76,301.53 L190.25,302.07 L190.75,302.64 L191.24,303.21 L191.74,303.81 L192.24,304.42 L192.73,305.05 L193.23,305.69 L193.72,306.35 L194.22,307.03 L194.72,307.73 L195.21,308.45 L195.71,309.19 L196.21,309.95 L196.70,310.73 L197.20,311.53 L197.69,312.35 L198.19,313.19 L198.69,314.06 L199.18,314.95 L199.68,315.86 L200.17,316.80 L200.67,317.76 L201.17,318.75 L201.66,319.76 L202.16,320.80 L202.65,321.87 L203.15,322.97 L203.65,324.09 L204.14,325.25 L204.64,326.44 L205.14,327.65" stroke="#111" stroke-width="1.25" fill="none"/>
<path d="M59.6,0V437" stroke="#6e6e6e" stroke-width="1.3" fill="none"/>
<path d="M59,0.5H594" stroke="#6e6e6e" stroke-width="1" fill="none"/>
<path d="M593.5,0V437" stroke="#4a4a4a" stroke-width="1" fill="none"/>
<path d="M55,406.27H59M55,375.04H59M55,343.81H59M55,312.58H59M55,281.35H59M55,250.12H59M55,218.89H59M55,187.66H59M55,156.43H59M55,125.20H59M55,93.97H59M55,62.74H59" stroke="#555" stroke-width="1" fill="none"/>
<path d="M594,406.27H598M594,375.04H598M594,343.81H598M594,312.58H598M594,281.35H598M594,250.12H598M594,218.89H598M594,187.66H598" stroke="#555" stroke-width="1" fill="none"/>
<path d="M55,437.5H598" stroke="#000" stroke-width="1" fill="none"/>
<path d="M59.50,438V441M88.06,438V441M116.61,438V441M145.17,438V441M173.72,438V441M202.28,438V441M230.84,438V441M259.39,438V441M287.95,438V441M316.50,438V441M345.06,438V441M373.62,438V441M402.17,438V441M430.73,438V441M459.28,438V441M487.84,438V441M516.40,438V441M544.95,438V441M573.51,438V441" stroke="#333" stroke-width="1" fill="none"/>
<path d="M59.6,458V691" stroke="#6e6e6e" stroke-width="1.3" fill="none"/>
<path d="M59,458.5H594" stroke="#5c5c5c" stroke-width="1" fill="none"/>
<path d="M593.5,458V691" stroke="#4a4a4a" stroke-width="1" fill="none"/>
<path d="M55,690.5H598" stroke="#8a8a8a" stroke-width="1" fill="none"/>
<path d="M55,651.76H59M55,613.02H59M55,574.28H59M55,535.54H59M55,496.80H59" stroke="#555" stroke-width="1" fill="none"/>
<path d="M594,651.76H598M594,613.02H598M594,574.28H598M594,535.54H598M594,496.80H598" stroke="#999" stroke-width="1" fill="none"/>
<rect x="533.5" y="0.5" width="60" height="18" fill="#fff" stroke="#444" stroke-width="1"/>
</svg>
<svg width="658" height="700" viewBox="0 0 658 700" style="position:absolute;left:0;top:0" font-family="'Liberation Sans', sans-serif" font-size="11" fill="#1a1a1a">
<text x="50.1" y="441.4" text-anchor="end">0</text>
<text x="50.1" y="410.2" text-anchor="end">10</text>
<text x="50.1" y="378.9" text-anchor="end">20</text>
<text x="50.1" y="347.7" text-anchor="end">30</text>
<text x="50.1" y="316.5" text-anchor="end">40</text>
<text x="50.1" y="285.2" text-anchor="end">50</text>
<text x="50.1" y="254.0" text-anchor="end">60</text>
<text x="50.1" y="222.8" text-anchor="end">70</text>
<text x="50.1" y="191.6" text-anchor="end">80</text>
<text x="50.1" y="160.3" text-anchor="end">90</text>
<text x="50.1" y="129.1" text-anchor="end">100</text>
<text x="50.1" y="97.9" text-anchor="end">110</text>
<text x="50.1" y="66.6" text-anchor="end">120</text>
<text x="601.3" y="441.2" text-anchor="start">0</text>
<text x="601.3" y="410.0" text-anchor="start">10</text>
<text x="601.3" y="378.7" text-anchor="start">20</text>
<text x="601.3" y="347.5" text-anchor="start">30</text>
<text x="601.3" y="316.3" text-anchor="start">40</text>
<text x="601.3" y="285.1" text-anchor="start">50</text>
<text x="601.3" y="253.8" text-anchor="start">60</text>
<text x="601.3" y="222.6" text-anchor="start">70</text>
<text x="601.3" y="191.4" text-anchor="start">80</text>
<text x="59.0" y="453.7" text-anchor="middle">0</text>
<text x="87.6" y="453.7" text-anchor="middle">0,2</text>
<text x="116.1" y="453.7" text-anchor="middle">0,4</text>
<text x="144.7" y="453.7" text-anchor="middle">0,6</text>
<text x="173.2" y="453.7" text-anchor="middle">0,8</text>
<text x="201.8" y="453.7" text-anchor="middle">1,0</text>
<text x="230.3" y="453.7" text-anchor="middle">1,2</text>
<text x="258.9" y="453.7" text-anchor="middle">1,4</text>
<text x="287.4" y="453.7" text-anchor="middle">1,6</text>
<text x="316.0" y="453.7" text-anchor="middle">1,8</text>
<text x="344.6" y="453.7" text-anchor="middle">2,0</text>
<text x="373.1" y="453.7" text-anchor="middle">2,2</text>
<text x="401.7" y="453.7" text-anchor="middle">2,4</text>
<text x="430.2" y="453.7" text-anchor="middle">2,6</text>
<text x="458.8" y="453.7" text-anchor="middle">2,8</text>
<text x="487.3" y="453.7" text-anchor="middle">3,0</text>
<text x="515.9" y="453.7" text-anchor="middle">3,2</text>
<text x="567.0" y="454.0" text-anchor="middle">Q [м³/ч]</text>
<text x="50.1" y="694.4" text-anchor="end">0.0</text>
<text x="50.1" y="655.7" text-anchor="end">0.2</text>
<text x="50.1" y="616.9" text-anchor="end">0.4</text>
<text x="50.1" y="578.2" text-anchor="end">0.6</text>
<text x="50.1" y="539.4" text-anchor="end">0.8</text>
<text x="50.1" y="500.7" text-anchor="end">1.0</text>
<text x="601.3" y="694.2" text-anchor="start">0</text>
<text x="601.3" y="655.5" text-anchor="start">5</text>
<text x="601.3" y="616.7" text-anchor="start">10</text>
<text x="601.3" y="578.0" text-anchor="start">15</text>
<text x="601.3" y="539.2" text-anchor="start">20</text>
<text x="601.3" y="500.5" text-anchor="start">25</text>
<text x="32.3" y="9.0" text-anchor="middle">H</text>
<text x="32.3" y="22.0" text-anchor="middle">[м]</text>
<text x="617.7" y="9.0" text-anchor="middle">eta</text>
<text x="618.0" y="22.0" text-anchor="middle">[%]</text>
<text x="29.5" y="467.0" text-anchor="middle">P2</text>
<text x="29.5" y="480.0" text-anchor="middle">[кВт]</text>
<text x="625.3" y="467.0" text-anchor="middle">NPSH</text>
<text x="625.3" y="480.0" text-anchor="middle">[м]</text>
<text x="561.3" y="13.7" text-anchor="middle">SQE 2-85</text>
<text x="126.4" y="94.0" text-anchor="start">100 %</text>
<text x="119.3" y="158.6" text-anchor="start">90 %</text>
<text x="112.9" y="216.6" text-anchor="start">80 %</text>
<text x="106.7" y="268.6" text-anchor="start">70 %</text>
<text x="99.9" y="312.6" text-anchor="start">60 %</text>
<text x="93.8" y="349.8" text-anchor="start">50 %</text>
<text x="87.3" y="380.0" text-anchor="start">40 %</text>
<text x="80.4" y="404.3" text-anchor="start">30 %</text>
</svg>
</body></html>
